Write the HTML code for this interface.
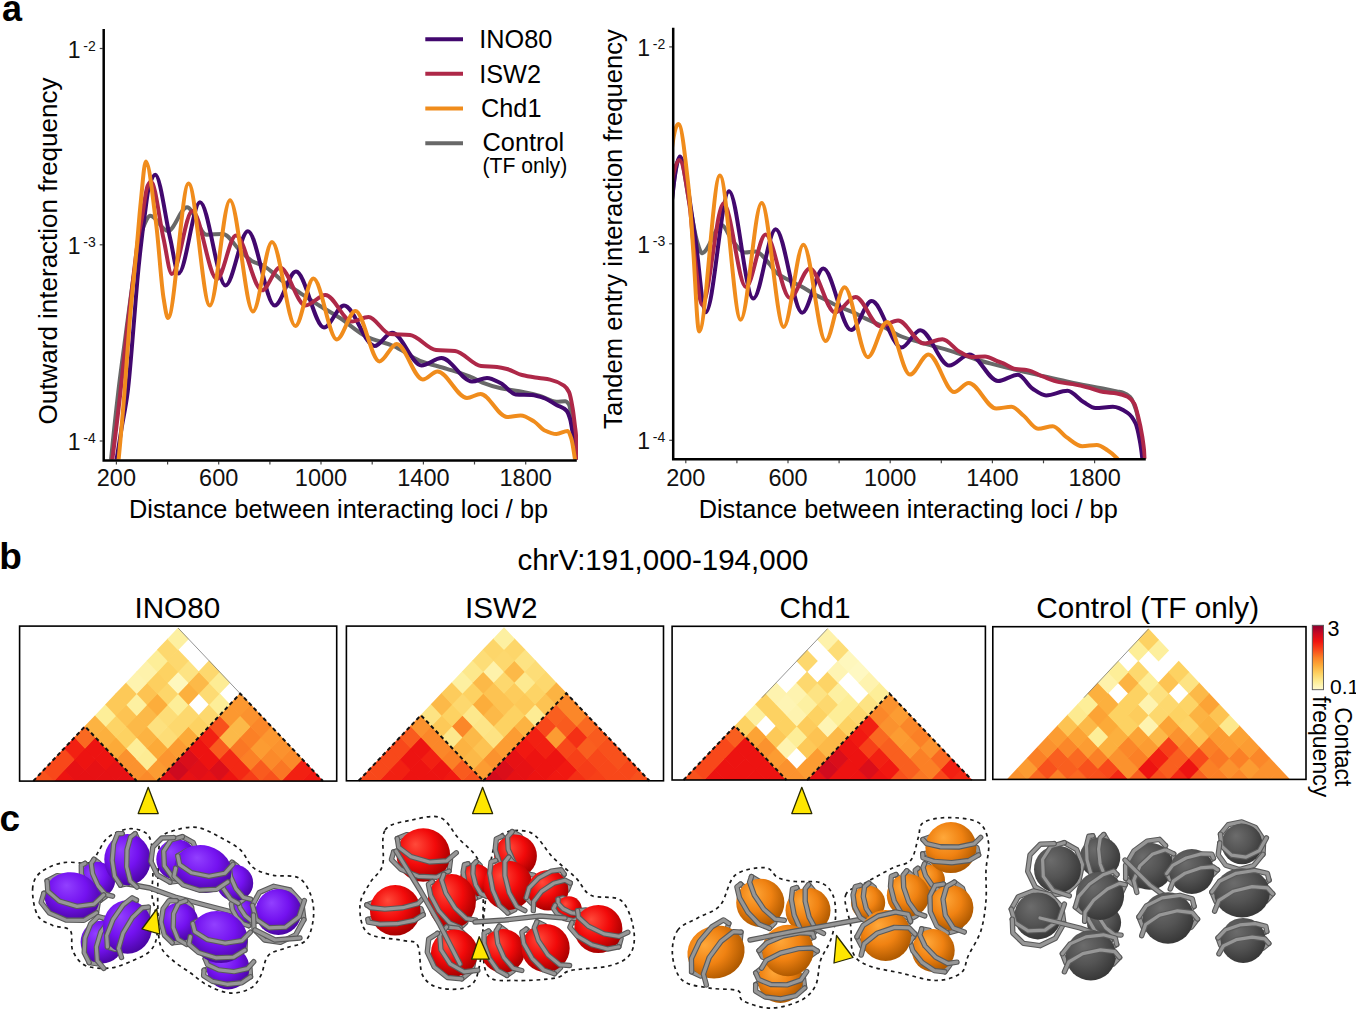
<!DOCTYPE html>
<html><head><meta charset="utf-8"><title>Figure</title><style>
html,body{margin:0;padding:0;background:#ffffff;overflow:hidden;}
svg{display:block;}
text{font-family:"Liberation Sans", sans-serif;}
</style></head><body>
<svg width="1356" height="1011" viewBox="0 0 1356 1011">
<rect x="0" y="0" width="1356" height="1011" fill="#ffffff"/>
<defs>
<clipPath id="clipL"><rect x="104" y="0" width="474" height="459.5"/></clipPath>
<clipPath id="clipR"><rect x="673.5" y="0" width="473" height="458.8"/></clipPath>
<linearGradient id="cbar" x1="0" y1="0" x2="0" y2="1">
<stop offset="0.000" stop-color="#8c0030"/>
<stop offset="0.120" stop-color="#c80822"/>
<stop offset="0.250" stop-color="#f01410"/>
<stop offset="0.380" stop-color="#f8481a"/>
<stop offset="0.500" stop-color="#fb8026"/>
<stop offset="0.620" stop-color="#fcaa38"/>
<stop offset="0.750" stop-color="#fdd262"/>
<stop offset="0.880" stop-color="#fdee98"/>
<stop offset="1.000" stop-color="#fffbd0"/>
</linearGradient>
</defs>
<text x="1.9" y="20.5" font-size="36" font-weight="bold" fill="#000">a</text>
<text x="-0.8" y="569.3" font-size="37" font-weight="bold" fill="#000">b</text>
<text x="-0.5" y="831.0" font-size="37" font-weight="bold" fill="#000">c</text>
<g clip-path="url(#clipL)" fill="none" stroke-width="4" stroke-linejoin="round" stroke-linecap="round">
<path d="M110.20,468.00 C112.90,440.05 115.60,414.53 118.30,391.70 C120.53,372.81 122.77,356.98 125.00,340.00 C127.00,324.79 129.00,309.12 131.00,295.00 C133.00,280.88 135.00,265.75 137.00,255.00 C139.00,244.25 141.00,232.95 143.00,228.00 C145.43,221.98 147.87,215.80 150.30,215.80 C156.20,215.80 162.10,231.00 168.00,231.00 C174.33,231.00 180.67,207.20 187.00,207.20 C193.53,207.20 200.07,234.80 206.60,234.80 C212.03,234.80 217.47,233.90 222.90,233.90 C228.70,233.90 234.50,245.68 240.30,250.90 C244.63,254.80 248.97,259.64 253.30,261.80 C256.20,263.25 259.10,263.62 262.00,265.00 C265.67,266.75 269.33,269.82 273.00,272.70 C275.87,274.95 278.73,278.06 281.60,280.30 C287.73,285.09 293.87,288.69 300.00,292.80 C306.67,297.26 313.33,301.81 320.00,306.00 C326.67,310.19 333.33,313.71 340.00,318.00 C348.90,323.73 357.80,332.56 366.70,336.70 C375.60,340.84 384.50,342.19 393.40,346.00 C402.27,349.80 411.13,357.35 420.00,360.80 C428.93,364.27 437.87,365.94 446.80,368.80 C455.70,371.65 464.60,374.19 473.50,378.00 C476.47,379.27 479.43,381.43 482.40,382.60 C488.57,385.03 494.73,386.87 500.90,388.20 C507.07,389.53 513.23,390.11 519.40,391.30 C526.27,392.62 533.13,394.08 540.00,396.00 C545.50,397.53 551.00,401.80 556.50,401.80 C559.40,401.80 562.30,401.20 565.20,401.20 C566.43,401.20 567.67,402.50 568.90,404.30 C570.27,406.29 571.63,418.56 573.00,430.00 C574.00,438.37 575.00,451.58 576.00,466.00" stroke="#686868"/>
<path d="M115.20,468.00 C117.23,455.09 119.27,442.41 121.30,430.00 C123.43,416.98 125.57,408.34 127.70,391.70 C129.83,375.06 131.97,345.09 134.10,320.00 C135.17,307.45 136.23,292.46 137.30,280.80 C138.37,269.14 139.43,258.74 140.50,249.20 C141.80,237.57 143.10,227.01 144.40,217.50 C146.00,205.80 147.60,190.49 149.20,185.80 C151.20,179.94 153.20,174.80 155.20,174.80 C160.23,174.80 165.27,217.90 170.30,239.00 C173.07,250.60 175.83,273.40 178.60,273.40 C185.73,273.40 192.87,202.30 200.00,202.30 C208.53,202.30 217.07,285.40 225.60,285.40 C233.03,285.40 240.47,231.20 247.90,231.20 C256.83,231.20 265.77,305.50 274.70,305.50 C281.80,305.50 288.90,271.50 296.00,271.50 C305.33,271.50 314.67,327.50 324.00,327.50 C330.67,327.50 337.33,305.50 344.00,305.50 C354.23,305.50 364.47,346.00 374.70,346.00 C380.47,346.00 386.23,332.70 392.00,332.70 C401.83,332.70 411.67,365.40 421.50,365.40 C428.17,365.40 434.83,358.00 441.50,358.00 C451.67,358.00 461.83,381.50 472.00,381.50 C477.00,381.50 482.00,378.00 487.00,378.00 C491.63,378.00 496.27,380.97 500.90,383.30 C505.83,385.79 510.77,394.05 515.70,394.40 C521.07,394.79 526.43,394.64 531.80,395.00 C535.93,395.28 540.07,396.68 544.20,398.10 C548.30,399.51 552.40,402.61 556.50,404.90 C559.80,406.75 563.10,407.19 566.40,410.50 C567.63,411.74 568.87,415.00 570.10,419.10 C571.13,422.53 572.17,429.91 573.20,436.40 C574.23,442.89 575.27,449.55 576.30,458.70 C576.53,460.77 576.77,463.43 577.00,466.00" stroke="#42086e"/>
<path d="M111.20,468.00 C114.30,444.92 117.40,419.10 120.50,391.70 C122.67,372.55 124.83,349.21 127.00,330.00 C129.00,312.27 131.00,296.32 133.00,280.00 C134.67,266.40 136.33,250.94 138.00,240.00 C139.33,231.25 140.67,225.02 142.00,217.50 C143.87,206.97 145.73,189.47 147.60,185.80 C148.73,183.57 149.87,181.50 151.00,181.50 C155.20,181.50 159.40,220.52 163.60,239.00 C166.33,251.03 169.07,274.00 171.80,274.00 C178.67,274.00 185.53,211.00 192.40,211.00 C200.57,211.00 208.73,279.00 216.90,279.00 C223.23,279.00 229.57,235.50 235.90,235.50 C244.60,235.50 253.30,290.30 262.00,290.30 C268.00,290.30 274.00,267.50 280.00,267.50 C288.47,267.50 296.93,305.50 305.40,305.50 C312.07,305.50 318.73,295.00 325.40,295.00 C334.27,295.00 343.13,321.50 352.00,321.50 C357.50,321.50 363.00,317.00 368.50,317.00 C375.67,317.00 382.83,333.33 390.00,334.00 C396.67,334.62 403.33,334.41 410.00,335.00 C418.67,335.77 427.33,349.20 436.00,350.00 C442.33,350.59 448.67,350.41 455.00,351.00 C463.67,351.80 472.33,365.08 481.00,366.00 C486.33,366.57 491.67,366.47 497.00,367.00 C500.33,367.33 503.67,368.13 507.00,369.00 C512.00,370.30 517.00,373.77 522.00,375.00 C527.67,376.40 533.33,377.10 539.00,378.00 C542.67,378.58 546.33,378.82 550.00,379.60 C554.67,380.60 559.33,382.43 564.00,385.70 C565.67,386.87 567.33,388.63 569.00,392.00 C570.20,394.43 571.40,401.11 572.60,408.00 C573.40,412.59 574.20,419.58 575.00,426.50 C575.43,430.25 575.87,431.90 576.30,439.00 C576.53,442.82 576.77,454.64 577.00,466.00" stroke="#ae2848"/>
<path d="M117.80,468.00 C120.03,445.46 122.27,419.71 124.50,392.00 C126.27,370.08 128.03,340.97 129.80,320.00 C132.07,293.09 134.33,273.64 136.60,249.00 C138.00,233.78 139.40,214.88 140.80,201.70 C142.47,186.01 144.13,161.60 145.80,161.60 C149.27,161.60 152.73,197.75 156.20,224.20 C158.67,243.02 161.13,283.66 163.60,298.40 C165.07,307.16 166.53,318.00 168.00,318.00 C174.87,318.00 181.73,183.50 188.60,183.50 C195.67,183.50 202.73,305.50 209.80,305.50 C216.53,305.50 223.27,200.20 230.00,200.20 C237.67,200.20 245.33,311.50 253.00,311.50 C259.33,311.50 265.67,242.00 272.00,242.00 C279.80,242.00 287.60,326.00 295.40,326.00 C301.40,326.00 307.40,278.50 313.40,278.50 C321.20,278.50 329.00,339.50 336.80,339.50 C343.00,339.50 349.20,311.00 355.40,311.00 C363.40,311.00 371.40,361.40 379.40,361.40 C385.17,361.40 390.93,344.00 396.70,344.00 C405.40,344.00 414.10,379.50 422.80,379.50 C427.70,379.50 432.60,371.50 437.50,371.50 C447.33,371.50 457.17,398.00 467.00,398.00 C471.50,398.00 476.00,394.00 480.50,394.00 C489.33,394.00 498.17,417.00 507.00,417.00 C511.57,417.00 516.13,415.40 520.70,415.40 C525.23,415.40 529.77,418.84 534.30,421.60 C537.60,423.61 540.90,428.67 544.20,430.20 C548.30,432.10 552.40,434.00 556.50,434.00 C560.23,434.00 563.97,430.90 567.70,430.90 C568.93,430.90 570.17,435.01 571.40,438.90 C572.43,442.16 573.47,449.92 574.50,456.20 C575.00,459.24 575.50,462.58 576.00,466.00" stroke="#f08c1c"/>
</g>
<g stroke="#444" stroke-width="1.2">
<line x1="116.4" y1="461.5" x2="116.4" y2="464.5"/>
<line x1="167.6" y1="461.5" x2="167.6" y2="464.5"/>
<line x1="218.7" y1="461.5" x2="218.7" y2="464.5"/>
<line x1="269.9" y1="461.5" x2="269.9" y2="464.5"/>
<line x1="321.0" y1="461.5" x2="321.0" y2="464.5"/>
<line x1="372.2" y1="461.5" x2="372.2" y2="464.5"/>
<line x1="423.4" y1="461.5" x2="423.4" y2="464.5"/>
<line x1="474.5" y1="461.5" x2="474.5" y2="464.5"/>
<line x1="525.7" y1="461.5" x2="525.7" y2="464.5"/>
<line x1="99.7" y1="48.5" x2="102.7" y2="48.5"/>
<line x1="99.7" y1="244.8" x2="102.7" y2="244.8"/>
<line x1="99.7" y1="441.0" x2="102.7" y2="441.0"/>
</g>
<path d="M103.7,29.0 L103.7,460.5 L576.8,460.5" fill="none" stroke="#000" stroke-width="2.5"/>
<text x="116.4" y="486.3" font-size="23.5" text-anchor="middle" fill="#111">200</text>
<text x="218.7" y="486.3" font-size="23.5" text-anchor="middle" fill="#111">600</text>
<text x="321.0" y="486.3" font-size="23.5" text-anchor="middle" fill="#111">1000</text>
<text x="423.4" y="486.3" font-size="23.5" text-anchor="middle" fill="#111">1400</text>
<text x="525.7" y="486.3" font-size="23.5" text-anchor="middle" fill="#111">1800</text>
<text x="80.5" y="57.5" font-size="23" text-anchor="end" fill="#111">1</text>
<text x="95.8" y="50.5" font-size="14" text-anchor="end" fill="#111">-2</text>
<text x="80.5" y="253.8" font-size="23" text-anchor="end" fill="#111">1</text>
<text x="95.8" y="246.8" font-size="14" text-anchor="end" fill="#111">-3</text>
<text x="80.5" y="450.0" font-size="23" text-anchor="end" fill="#111">1</text>
<text x="95.8" y="443.0" font-size="14" text-anchor="end" fill="#111">-4</text>
<text x="129.0" y="517.5" font-size="25.3" fill="#000">Distance between interacting loci / bp</text>
<text transform="translate(57.2,424.4) rotate(-90)" font-size="26.00" fill="#000">Outward interaction frequency</text>
<g clip-path="url(#clipR)" fill="none" stroke-width="4" stroke-linejoin="round" stroke-linecap="round">
<path d="M671.00,210.00 C673.93,178.25 676.87,158.00 679.80,158.00 C683.20,158.00 686.60,189.48 690.00,206.00 C692.33,217.33 694.67,233.49 697.00,241.00 C698.67,246.36 700.33,253.20 702.00,253.20 C708.57,253.20 715.13,225.00 721.70,225.00 C725.13,225.00 728.57,235.99 732.00,240.00 C736.33,245.06 740.67,252.50 745.00,252.50 C748.50,252.50 752.00,251.50 755.50,251.50 C760.33,251.50 765.17,259.21 770.00,264.60 C771.90,266.72 773.80,270.64 775.70,272.30 C780.00,276.05 784.30,277.64 788.60,280.00 C792.87,282.34 797.13,284.16 801.40,286.50 C805.70,288.86 810.00,291.86 814.30,294.20 C818.57,296.52 822.83,298.47 827.10,300.60 C831.40,302.74 835.70,305.09 840.00,307.00 C844.30,308.91 848.60,310.28 852.90,312.20 C857.17,314.10 861.43,316.58 865.70,318.60 C870.47,320.85 875.23,322.69 880.00,325.00 C887.17,328.47 894.33,333.71 901.50,336.50 C910.73,340.09 919.97,342.06 929.20,344.80 C938.47,347.55 947.73,350.07 957.00,353.00 C963.90,355.18 970.80,357.92 977.70,360.00 C981.80,361.24 985.90,362.31 990.00,363.40 C998.90,365.76 1007.80,367.99 1016.70,370.10 C1025.60,372.21 1034.50,374.10 1043.40,376.10 C1052.30,378.10 1061.20,380.22 1070.10,382.10 C1079.00,383.98 1087.90,385.63 1096.80,387.40 C1103.50,388.73 1110.20,390.03 1116.90,391.40 C1119.13,391.86 1121.37,392.09 1123.60,392.80 C1125.73,393.48 1127.87,394.84 1130.00,397.00 C1132.00,399.03 1134.00,403.79 1136.00,410.00 C1137.33,414.14 1138.67,421.19 1140.00,430.00 C1141.00,436.61 1142.00,449.49 1143.00,458.00 C1143.33,460.84 1143.67,463.44 1144.00,466.00" stroke="#686868"/>
<path d="M671.00,210.00 C673.97,179.67 676.93,156.50 679.90,156.50 C684.83,156.50 689.77,203.67 694.70,233.50 C698.40,255.87 702.10,312.20 705.80,312.20 C713.53,312.20 721.27,191.20 729.00,191.20 C737.10,191.20 745.20,298.60 753.30,298.60 C760.77,298.60 768.23,229.30 775.70,229.30 C784.53,229.30 793.37,312.70 802.20,312.70 C809.23,312.70 816.27,268.50 823.30,268.50 C832.60,268.50 841.90,330.10 851.20,330.10 C858.03,330.10 864.87,301.10 871.70,301.10 C881.63,301.10 891.57,347.60 901.50,347.60 C907.73,347.60 913.97,330.20 920.20,330.20 C929.90,330.20 939.60,365.60 949.30,365.60 C956.00,365.60 962.70,354.50 969.40,354.50 C978.93,354.50 988.47,381.00 998.00,381.00 C1004.67,381.00 1011.33,374.70 1018.00,374.70 C1022.90,374.70 1027.80,385.63 1032.70,388.80 C1037.17,391.69 1041.63,395.40 1046.10,395.40 C1053.23,395.40 1060.37,390.80 1067.50,390.80 C1072.83,390.80 1078.17,399.00 1083.50,402.10 C1087.50,404.42 1091.50,408.10 1095.50,408.10 C1101.30,408.10 1107.10,406.80 1112.90,406.80 C1117.80,406.80 1122.70,409.57 1127.60,412.80 C1130.27,414.56 1132.93,417.84 1135.60,423.50 C1136.93,426.33 1138.27,432.62 1139.60,439.50 C1140.50,444.14 1141.40,450.14 1142.30,458.20 C1142.53,460.29 1142.77,463.20 1143.00,466.00" stroke="#42086e"/>
<path d="M671.00,188.00 C673.83,168.52 676.67,160.00 679.50,160.00 C682.83,160.00 686.17,183.40 689.50,205.00 C691.17,215.80 692.83,241.49 694.50,255.00 C697.00,275.27 699.50,305.00 702.00,305.00 C709.20,305.00 716.40,203.60 723.60,203.60 C731.03,203.60 738.47,287.00 745.90,287.00 C752.47,287.00 759.03,234.50 765.60,234.50 C773.73,234.50 781.87,298.00 790.00,298.00 C796.60,298.00 803.20,268.50 809.80,268.50 C818.20,268.50 826.60,312.50 835.00,312.50 C841.83,312.50 848.67,297.00 855.50,297.00 C863.67,297.00 871.83,326.20 880.00,326.20 C886.03,326.20 892.07,320.50 898.10,320.50 C906.63,320.50 915.17,343.50 923.70,343.50 C929.93,343.50 936.17,339.20 942.40,339.20 C948.27,339.20 954.13,348.94 960.00,352.00 C964.00,354.08 968.00,357.00 972.00,357.00 C976.33,357.00 980.67,356.50 985.00,356.50 C989.33,356.50 993.67,359.92 998.00,361.50 C999.80,362.16 1001.60,362.67 1003.40,363.40 C1006.93,364.83 1010.47,368.07 1014.00,368.70 C1018.47,369.49 1022.93,369.37 1027.40,370.10 C1032.73,370.97 1038.07,374.72 1043.40,376.70 C1048.73,378.68 1054.07,381.01 1059.40,382.10 C1063.87,383.01 1068.33,383.30 1072.80,384.10 C1078.60,385.14 1084.40,386.58 1090.20,388.10 C1094.63,389.26 1099.07,391.45 1103.50,392.10 C1107.97,392.76 1112.43,392.72 1116.90,393.40 C1120.47,393.94 1124.03,395.00 1127.60,396.80 C1129.80,397.91 1132.00,399.92 1134.20,403.50 C1135.53,405.67 1136.87,411.53 1138.20,416.80 C1139.57,422.20 1140.93,428.27 1142.30,436.80 C1143.17,442.21 1144.03,449.04 1144.90,458.20 C1145.10,460.31 1145.30,463.22 1145.50,466.00" stroke="#ae2848"/>
<path d="M671.00,156.00 C673.47,134.37 675.93,124.00 678.40,124.00 C681.83,124.00 685.27,157.95 688.70,189.00 C690.20,202.56 691.70,229.48 693.20,250.00 C695.17,276.90 697.13,331.50 699.10,331.50 C706.03,331.50 712.97,175.40 719.90,175.40 C726.83,175.40 733.77,319.70 740.70,319.70 C747.67,319.70 754.63,203.00 761.60,203.00 C768.97,203.00 776.33,326.90 783.70,326.90 C790.27,326.90 796.83,244.70 803.40,244.70 C810.77,244.70 818.13,341.00 825.50,341.00 C831.87,341.00 838.23,287.20 844.60,287.20 C852.33,287.20 860.07,357.20 867.80,357.20 C874.20,357.20 880.60,322.00 887.00,322.00 C894.63,322.00 902.27,374.60 909.90,374.60 C916.10,374.60 922.30,354.50 928.50,354.50 C937.07,354.50 945.63,392.00 954.20,392.00 C959.03,392.00 963.87,383.00 968.70,383.00 C977.87,383.00 987.03,408.50 996.20,408.50 C1001.27,408.50 1006.33,406.80 1011.40,406.80 C1015.40,406.80 1019.40,412.29 1023.40,415.50 C1028.30,419.43 1033.20,428.80 1038.10,428.80 C1043.00,428.80 1047.90,426.20 1052.80,426.20 C1057.23,426.20 1061.67,433.80 1066.10,436.80 C1071.47,440.43 1076.83,446.20 1082.20,446.20 C1087.07,446.20 1091.93,444.90 1096.80,444.90 C1100.37,444.90 1103.93,447.95 1107.50,450.20 C1110.63,452.17 1113.77,454.67 1116.90,458.20 C1118.60,460.11 1120.30,462.99 1122.00,466.00" stroke="#f08c1c"/>
</g>
<g stroke="#444" stroke-width="1.2">
<line x1="685.8" y1="460.3" x2="685.8" y2="463.3"/>
<line x1="736.9" y1="460.3" x2="736.9" y2="463.3"/>
<line x1="788.0" y1="460.3" x2="788.0" y2="463.3"/>
<line x1="839.1" y1="460.3" x2="839.1" y2="463.3"/>
<line x1="890.2" y1="460.3" x2="890.2" y2="463.3"/>
<line x1="941.3" y1="460.3" x2="941.3" y2="463.3"/>
<line x1="992.4" y1="460.3" x2="992.4" y2="463.3"/>
<line x1="1043.5" y1="460.3" x2="1043.5" y2="463.3"/>
<line x1="1094.6" y1="460.3" x2="1094.6" y2="463.3"/>
<line x1="669.2" y1="46.9" x2="672.2" y2="46.9"/>
<line x1="669.2" y1="243.8" x2="672.2" y2="243.8"/>
<line x1="669.2" y1="440.3" x2="672.2" y2="440.3"/>
</g>
<path d="M673.2,27.7 L673.2,459.3 L1145.8,459.3" fill="none" stroke="#000" stroke-width="2.5"/>
<text x="685.8" y="485.5" font-size="23.5" text-anchor="middle" fill="#111">200</text>
<text x="788.0" y="485.5" font-size="23.5" text-anchor="middle" fill="#111">600</text>
<text x="890.2" y="485.5" font-size="23.5" text-anchor="middle" fill="#111">1000</text>
<text x="992.4" y="485.5" font-size="23.5" text-anchor="middle" fill="#111">1400</text>
<text x="1094.6" y="485.5" font-size="23.5" text-anchor="middle" fill="#111">1800</text>
<text x="650.0" y="55.9" font-size="23" text-anchor="end" fill="#111">1</text>
<text x="665.3" y="48.9" font-size="14" text-anchor="end" fill="#111">-2</text>
<text x="650.0" y="252.8" font-size="23" text-anchor="end" fill="#111">1</text>
<text x="665.3" y="245.8" font-size="14" text-anchor="end" fill="#111">-3</text>
<text x="650.0" y="449.3" font-size="23" text-anchor="end" fill="#111">1</text>
<text x="665.3" y="442.3" font-size="14" text-anchor="end" fill="#111">-4</text>
<text x="698.7" y="517.5" font-size="25.3" fill="#000">Distance between interacting loci / bp</text>
<text transform="translate(621.6,428.9) rotate(-90)" font-size="25.60" fill="#000">Tandem entry interaction frequency</text>
<line x1="425.3" y1="39.3" x2="463" y2="39.3" stroke="#42086e" stroke-width="4"/>
<text x="479.2" y="48.3" font-size="25.3" fill="#000">INO80</text>
<line x1="425.3" y1="73.8" x2="463" y2="73.8" stroke="#ae2848" stroke-width="4"/>
<text x="479.2" y="83.3" font-size="25.3" fill="#000">ISW2</text>
<line x1="425.3" y1="108.5" x2="463" y2="108.5" stroke="#f08c1c" stroke-width="4"/>
<text x="481.0" y="117.3" font-size="25.3" fill="#000">Chd1</text>
<line x1="425.3" y1="143.2" x2="463" y2="143.2" stroke="#686868" stroke-width="4"/>
<text x="482.6" y="151.4" font-size="25.3" fill="#000">Control</text>
<text x="482.5" y="173.3" font-size="21.2" fill="#000">(TF only)</text>
<text x="517.6" y="570.2" font-size="29.5" fill="#000">chrV:191,000-194,000</text>
<text x="177.3" y="618" font-size="29.7" text-anchor="middle" fill="#000">INO80</text>
<clipPath id="hc0"><rect x="31.3" y="626.0" width="293.6" height="155.0"/></clipPath>
<g clip-path="url(#hc0)">
<path d="M43.64,769.62 L54.44,781.00 L43.64,792.38 L32.85,781.00 Z" fill="#f8511c"/>
<path d="M64.33,769.62 L75.12,781.00 L64.33,792.38 L53.54,781.00 Z" fill="#ed1311"/>
<path d="M85.01,769.62 L95.81,781.00 L85.01,792.38 L74.22,781.00 Z" fill="#e71114"/>
<path d="M105.70,769.62 L116.49,781.00 L105.70,792.38 L94.91,781.00 Z" fill="#e71114"/>
<path d="M126.39,769.62 L137.18,781.00 L126.39,792.38 L115.59,781.00 Z" fill="#e71114"/>
<path d="M147.07,769.62 L157.86,781.00 L147.07,792.38 L136.28,781.00 Z" fill="#fb8a2a"/>
<path d="M167.76,769.62 L178.55,781.00 L167.76,792.38 L156.96,781.00 Z" fill="#e10f17"/>
<path d="M188.44,769.62 L199.24,781.00 L188.44,792.38 L177.65,781.00 Z" fill="#e71114"/>
<path d="M209.13,769.62 L219.92,781.00 L209.13,792.38 L198.34,781.00 Z" fill="#e71114"/>
<path d="M229.81,769.62 L240.61,781.00 L229.81,792.38 L219.02,781.00 Z" fill="#ed1311"/>
<path d="M250.50,769.62 L261.29,781.00 L250.50,792.38 L239.71,781.00 Z" fill="#f63c18"/>
<path d="M271.19,769.62 L281.98,781.00 L271.19,792.38 L260.39,781.00 Z" fill="#f8511c"/>
<path d="M291.87,769.62 L302.66,781.00 L291.87,792.38 L281.08,781.00 Z" fill="#f22012"/>
<path d="M312.56,769.62 L323.35,781.00 L312.56,792.38 L301.76,781.00 Z" fill="#f11811"/>
<path d="M53.99,758.69 L64.78,770.07 L53.99,781.45 L43.19,770.07 Z" fill="#f8481a"/>
<path d="M74.67,758.69 L85.46,770.07 L74.67,781.45 L63.88,770.07 Z" fill="#e71114"/>
<path d="M95.36,758.69 L106.15,770.07 L95.36,781.45 L84.56,770.07 Z" fill="#e71114"/>
<path d="M116.04,758.69 L126.84,770.07 L116.04,781.45 L105.25,770.07 Z" fill="#e71114"/>
<path d="M136.73,758.69 L147.52,770.07 L136.73,781.45 L125.94,770.07 Z" fill="#fb922e"/>
<path d="M157.41,758.69 L168.21,770.07 L157.41,781.45 L146.62,770.07 Z" fill="#fc9c32"/>
<path d="M178.10,758.69 L188.89,770.07 L178.10,781.45 L167.31,770.07 Z" fill="#ce0a1f"/>
<path d="M198.79,758.69 L209.58,770.07 L198.79,781.45 L187.99,770.07 Z" fill="#e10f17"/>
<path d="M219.47,758.69 L230.26,770.07 L219.47,781.45 L208.68,770.07 Z" fill="#da0e1a"/>
<path d="M240.16,758.69 L250.95,770.07 L240.16,781.45 L229.36,770.07 Z" fill="#f32814"/>
<path d="M260.84,758.69 L271.64,770.07 L260.84,781.45 L250.05,770.07 Z" fill="#f95b1e"/>
<path d="M281.53,758.69 L292.32,770.07 L281.53,781.45 L270.74,770.07 Z" fill="#fa7724"/>
<path d="M302.21,758.69 L313.01,770.07 L302.21,781.45 L291.42,770.07 Z" fill="#f22012"/>
<path d="M64.33,747.76 L75.12,759.14 L64.33,770.52 L53.54,759.14 Z" fill="#f8481a"/>
<path d="M85.01,747.76 L95.81,759.14 L85.01,770.52 L74.22,759.14 Z" fill="#ed1311"/>
<path d="M105.70,747.76 L116.49,759.14 L105.70,770.52 L94.91,759.14 Z" fill="#ed1311"/>
<path d="M126.39,747.76 L137.18,759.14 L126.39,770.52 L115.59,759.14 Z" fill="#fb922e"/>
<path d="M147.07,747.76 L157.86,759.14 L147.07,770.52 L136.28,759.14 Z" fill="#fdec94"/>
<path d="M167.76,747.76 L178.55,759.14 L167.76,770.52 L156.96,759.14 Z" fill="#fc952f"/>
<path d="M188.44,747.76 L199.24,759.14 L188.44,770.52 L177.65,759.14 Z" fill="#da0e1a"/>
<path d="M209.13,747.76 L219.92,759.14 L209.13,770.52 L198.34,759.14 Z" fill="#ed1311"/>
<path d="M229.81,747.76 L240.61,759.14 L229.81,770.52 L219.02,759.14 Z" fill="#f32814"/>
<path d="M250.50,747.76 L261.29,759.14 L250.50,770.52 L239.71,759.14 Z" fill="#fb8026"/>
<path d="M271.19,747.76 L281.98,759.14 L271.19,770.52 L260.39,759.14 Z" fill="#fb8a2a"/>
<path d="M291.87,747.76 L302.66,759.14 L291.87,770.52 L281.08,759.14 Z" fill="#fb8a2a"/>
<path d="M74.67,736.84 L85.46,748.21 L74.67,759.59 L63.88,748.21 Z" fill="#f22012"/>
<path d="M95.36,736.84 L106.15,748.21 L95.36,759.59 L84.56,748.21 Z" fill="#ed1311"/>
<path d="M116.04,736.84 L126.84,748.21 L116.04,759.59 L105.25,748.21 Z" fill="#fcaa38"/>
<path d="M136.73,736.84 L147.52,748.21 L136.73,759.59 L125.94,748.21 Z" fill="#fdee98"/>
<path d="M157.41,736.84 L168.21,748.21 L157.41,759.59 L146.62,748.21 Z" fill="#fcaa38"/>
<path d="M178.10,736.84 L188.89,748.21 L178.10,759.59 L167.31,748.21 Z" fill="#fc9c32"/>
<path d="M198.79,736.84 L209.58,748.21 L198.79,759.59 L187.99,748.21 Z" fill="#ed1311"/>
<path d="M219.47,736.84 L230.26,748.21 L219.47,759.59 L208.68,748.21 Z" fill="#f95b1e"/>
<path d="M240.16,736.84 L250.95,748.21 L240.16,759.59 L229.36,748.21 Z" fill="#fa7724"/>
<path d="M260.84,736.84 L271.64,748.21 L260.84,759.59 L250.05,748.21 Z" fill="#fc9c32"/>
<path d="M281.53,736.84 L292.32,748.21 L281.53,759.59 L270.74,748.21 Z" fill="#fb922e"/>
<path d="M85.01,725.91 L95.81,737.29 L85.01,748.66 L74.22,737.29 Z" fill="#fa6921"/>
<path d="M105.70,725.91 L116.49,737.29 L105.70,748.66 L94.91,737.29 Z" fill="#fcb03e"/>
<path d="M126.39,725.91 L137.18,737.29 L126.39,748.66 L115.59,737.29 Z" fill="#fdd262"/>
<path d="M147.07,725.91 L157.86,737.29 L147.07,748.66 L136.28,737.29 Z" fill="#fcb342"/>
<path d="M167.76,725.91 L178.55,737.29 L167.76,748.66 L156.96,737.29 Z" fill="#fddd77"/>
<path d="M188.44,725.91 L199.24,737.29 L188.44,748.66 L177.65,737.29 Z" fill="#fcaa38"/>
<path d="M209.13,725.91 L219.92,737.29 L209.13,748.66 L198.34,737.29 Z" fill="#f22012"/>
<path d="M229.81,725.91 L240.61,737.29 L229.81,748.66 L219.02,737.29 Z" fill="#fcb948"/>
<path d="M250.50,725.91 L261.29,737.29 L250.50,748.66 L239.71,737.29 Z" fill="#fb8026"/>
<path d="M271.19,725.91 L281.98,737.29 L271.19,748.66 L260.39,737.29 Z" fill="#fc9830"/>
<path d="M95.36,714.98 L106.15,726.36 L95.36,737.74 L84.56,726.36 Z" fill="#fcb342"/>
<path d="M116.04,714.98 L126.84,726.36 L116.04,737.74 L105.25,726.36 Z" fill="#fdd466"/>
<path d="M136.73,714.98 L147.52,726.36 L136.73,737.74 L125.94,726.36 Z" fill="#fcb948"/>
<path d="M157.41,714.98 L168.21,726.36 L157.41,737.74 L146.62,726.36 Z" fill="#fde17f"/>
<path d="M178.10,714.98 L188.89,726.36 L178.10,737.74 L167.31,726.36 Z" fill="#fdd86e"/>
<path d="M198.79,714.98 L209.58,726.36 L198.79,737.74 L187.99,726.36 Z" fill="#fdd262"/>
<path d="M219.47,714.98 L230.26,726.36 L219.47,737.74 L208.68,726.36 Z" fill="#f8511c"/>
<path d="M240.16,714.98 L250.95,726.36 L240.16,737.74 L229.36,726.36 Z" fill="#fcb948"/>
<path d="M260.84,714.98 L271.64,726.36 L260.84,737.74 L250.05,726.36 Z" fill="#fb8729"/>
<path d="M105.70,704.05 L116.49,715.43 L105.70,726.81 L94.91,715.43 Z" fill="#fdee98"/>
<path d="M126.39,704.05 L137.18,715.43 L126.39,726.81 L115.59,715.43 Z" fill="#fdc352"/>
<path d="M147.07,704.05 L157.86,715.43 L147.07,726.81 L136.28,715.43 Z" fill="#fcb948"/>
<path d="M167.76,704.05 L178.55,715.43 L167.76,726.81 L156.96,715.43 Z" fill="#fddd77"/>
<path d="M188.44,704.05 L199.24,715.43 L188.44,726.81 L177.65,715.43 Z" fill="#fdd86e"/>
<path d="M209.13,704.05 L219.92,715.43 L209.13,726.81 L198.34,715.43 Z" fill="#fdd86e"/>
<path d="M229.81,704.05 L240.61,715.43 L229.81,726.81 L219.02,715.43 Z" fill="#fc9830"/>
<path d="M250.50,704.05 L261.29,715.43 L250.50,726.81 L239.71,715.43 Z" fill="#fb922e"/>
<path d="M116.04,693.12 L126.84,704.50 L116.04,715.88 L105.25,704.50 Z" fill="#fdc958"/>
<path d="M136.73,693.12 L147.52,704.50 L136.73,715.88 L125.94,704.50 Z" fill="#fdf0a1"/>
<path d="M157.41,693.12 L168.21,704.50 L157.41,715.88 L146.62,704.50 Z" fill="#fcad3b"/>
<path d="M178.10,693.12 L188.89,704.50 L178.10,715.88 L167.31,704.50 Z" fill="#fdee98"/>
<path d="M219.47,693.12 L230.26,704.50 L219.47,715.88 L208.68,704.50 Z" fill="#fdee98"/>
<path d="M240.16,693.12 L250.95,704.50 L240.16,715.88 L229.36,704.50 Z" fill="#fc9830"/>
<path d="M126.39,682.19 L137.18,693.57 L126.39,704.95 L115.59,693.57 Z" fill="#fdc958"/>
<path d="M147.07,682.19 L157.86,693.57 L147.07,704.95 L136.28,693.57 Z" fill="#fdc352"/>
<path d="M167.76,682.19 L178.55,693.57 L167.76,704.95 L156.96,693.57 Z" fill="#fdd66a"/>
<path d="M188.44,682.19 L199.24,693.57 L188.44,704.95 L177.65,693.57 Z" fill="#fcb03e"/>
<path d="M209.13,682.19 L219.92,693.57 L209.13,704.95 L198.34,693.57 Z" fill="#fddb73"/>
<path d="M136.73,671.26 L147.52,682.64 L136.73,694.02 L125.94,682.64 Z" fill="#fef3af"/>
<path d="M157.41,671.26 L168.21,682.64 L157.41,694.02 L146.62,682.64 Z" fill="#fdcf5f"/>
<path d="M178.10,671.26 L188.89,682.64 L178.10,694.02 L167.31,682.64 Z" fill="#fef7bd"/>
<path d="M198.79,671.26 L209.58,682.64 L198.79,694.02 L187.99,682.64 Z" fill="#fcb948"/>
<path d="M219.47,671.26 L230.26,682.64 L219.47,694.02 L208.68,682.64 Z" fill="#fdec94"/>
<path d="M147.07,660.34 L157.86,671.71 L147.07,683.09 L136.28,671.71 Z" fill="#fef2ab"/>
<path d="M167.76,660.34 L178.55,671.71 L167.76,683.09 L156.96,671.71 Z" fill="#fdd262"/>
<path d="M188.44,660.34 L199.24,671.71 L188.44,683.09 L177.65,671.71 Z" fill="#fde383"/>
<path d="M209.13,660.34 L219.92,671.71 L209.13,683.09 L198.34,671.71 Z" fill="#fdd86e"/>
<path d="M157.41,649.41 L168.21,660.79 L157.41,672.16 L146.62,660.79 Z" fill="#fdee98"/>
<path d="M178.10,649.41 L188.89,660.79 L178.10,672.16 L167.31,660.79 Z" fill="#fdd86e"/>
<path d="M167.76,638.48 L178.55,649.86 L167.76,661.24 L156.96,649.86 Z" fill="#fdd86e"/>
<path d="M178.10,627.55 L188.89,638.93 L178.10,650.31 L167.31,638.93 Z" fill="#fdf0a1"/>
</g>
<path d="M178.1,628.0 L244.3,697.9" fill="none" stroke="#7a7a7a" stroke-width="0.8"/>
<path d="M33.3,781.0 L85.0,726.4 L136.7,781.0" fill="none" stroke="#111" stroke-width="2" stroke-dasharray="4,3"/>
<path d="M157.4,781.0 L240.2,693.6 L322.9,781.0" fill="none" stroke="#111" stroke-width="2" stroke-dasharray="4,3"/>
<rect x="19.6" y="626.1" width="317.1" height="155.0" fill="none" stroke="#000" stroke-width="1.6"/>
<path d="M148.2,787.3 L158.2,813.6 L138.2,813.6 Z" fill="#ffe600" stroke="#2a2a00" stroke-width="1.3" stroke-linejoin="round"/>
<text x="501.2" y="618" font-size="29.7" text-anchor="middle" fill="#000">ISW2</text>
<clipPath id="hc1"><rect x="356.6" y="625.7" width="294.8" height="155.1"/></clipPath>
<g clip-path="url(#hc1)">
<path d="M368.99,769.41 L379.82,780.80 L368.99,792.19 L358.15,780.80 Z" fill="#f8481a"/>
<path d="M389.76,769.41 L400.59,780.80 L389.76,792.19 L378.92,780.80 Z" fill="#f22012"/>
<path d="M410.53,769.41 L421.36,780.80 L410.53,792.19 L399.69,780.80 Z" fill="#ed1311"/>
<path d="M431.30,769.41 L442.14,780.80 L431.30,792.19 L420.46,780.80 Z" fill="#ed1311"/>
<path d="M452.07,769.41 L462.91,780.80 L452.07,792.19 L441.24,780.80 Z" fill="#f11811"/>
<path d="M472.84,769.41 L483.68,780.80 L472.84,792.19 L462.01,780.80 Z" fill="#f8511c"/>
<path d="M493.61,769.41 L504.45,780.80 L493.61,792.19 L482.78,780.80 Z" fill="#d40c1c"/>
<path d="M514.39,769.41 L525.22,780.80 L514.39,792.19 L503.55,780.80 Z" fill="#e71114"/>
<path d="M535.16,769.41 L545.99,780.80 L535.16,792.19 L524.32,780.80 Z" fill="#ed1311"/>
<path d="M555.93,769.41 L566.76,780.80 L555.93,792.19 L545.09,780.80 Z" fill="#f11811"/>
<path d="M576.70,769.41 L587.54,780.80 L576.70,792.19 L565.86,780.80 Z" fill="#f43015"/>
<path d="M597.47,769.41 L608.31,780.80 L597.47,792.19 L586.64,780.80 Z" fill="#f74018"/>
<path d="M618.24,769.41 L629.08,780.80 L618.24,792.19 L607.41,780.80 Z" fill="#f8481a"/>
<path d="M639.01,769.41 L649.85,780.80 L639.01,792.19 L628.18,780.80 Z" fill="#f8511c"/>
<path d="M379.37,758.48 L390.21,769.86 L379.37,781.25 L368.54,769.86 Z" fill="#f8481a"/>
<path d="M400.14,758.48 L410.98,769.86 L400.14,781.25 L389.31,769.86 Z" fill="#f22012"/>
<path d="M420.91,758.48 L431.75,769.86 L420.91,781.25 L410.08,769.86 Z" fill="#ed1311"/>
<path d="M441.69,758.48 L452.52,769.86 L441.69,781.25 L430.85,769.86 Z" fill="#ed1311"/>
<path d="M462.46,758.48 L473.29,769.86 L462.46,781.25 L451.62,769.86 Z" fill="#f95b1e"/>
<path d="M483.23,758.48 L494.06,769.86 L483.23,781.25 L472.39,769.86 Z" fill="#fc9c32"/>
<path d="M504.00,758.48 L514.84,769.86 L504.00,781.25 L493.16,769.86 Z" fill="#da0e1a"/>
<path d="M524.77,758.48 L535.61,769.86 L524.77,781.25 L513.94,769.86 Z" fill="#e71114"/>
<path d="M545.54,758.48 L556.38,769.86 L545.54,781.25 L534.71,769.86 Z" fill="#ed1311"/>
<path d="M566.31,758.48 L577.15,769.86 L566.31,781.25 L555.48,769.86 Z" fill="#f11811"/>
<path d="M587.09,758.48 L597.92,769.86 L587.09,781.25 L576.25,769.86 Z" fill="#f63c18"/>
<path d="M607.86,758.48 L618.69,769.86 L607.86,781.25 L597.02,769.86 Z" fill="#f8481a"/>
<path d="M628.63,758.48 L639.46,769.86 L628.63,781.25 L617.79,769.86 Z" fill="#f8481a"/>
<path d="M389.76,747.54 L400.59,758.93 L389.76,770.31 L378.92,758.93 Z" fill="#f8481a"/>
<path d="M410.53,747.54 L421.36,758.93 L410.53,770.31 L399.69,758.93 Z" fill="#ed1311"/>
<path d="M431.30,747.54 L442.14,758.93 L431.30,770.31 L420.46,758.93 Z" fill="#f22012"/>
<path d="M452.07,747.54 L462.91,758.93 L452.07,770.31 L441.24,758.93 Z" fill="#fb8026"/>
<path d="M472.84,747.54 L483.68,758.93 L472.84,770.31 L462.01,758.93 Z" fill="#fcb948"/>
<path d="M493.61,747.54 L504.45,758.93 L493.61,770.31 L482.78,758.93 Z" fill="#fb922e"/>
<path d="M514.39,747.54 L525.22,758.93 L514.39,770.31 L503.55,758.93 Z" fill="#e71114"/>
<path d="M535.16,747.54 L545.99,758.93 L535.16,770.31 L524.32,758.93 Z" fill="#ed1311"/>
<path d="M555.93,747.54 L566.76,758.93 L555.93,770.31 L545.09,758.93 Z" fill="#ed1311"/>
<path d="M576.70,747.54 L587.54,758.93 L576.70,770.31 L565.86,758.93 Z" fill="#f74018"/>
<path d="M597.47,747.54 L608.31,758.93 L597.47,770.31 L586.64,758.93 Z" fill="#f8481a"/>
<path d="M618.24,747.54 L629.08,758.93 L618.24,770.31 L607.41,758.93 Z" fill="#f8511c"/>
<path d="M400.14,736.61 L410.98,747.99 L400.14,759.38 L389.31,747.99 Z" fill="#f8481a"/>
<path d="M420.91,736.61 L431.75,747.99 L420.91,759.38 L410.08,747.99 Z" fill="#ed1311"/>
<path d="M441.69,736.61 L452.52,747.99 L441.69,759.38 L430.85,747.99 Z" fill="#fb8729"/>
<path d="M462.46,736.61 L473.29,747.99 L462.46,759.38 L451.62,747.99 Z" fill="#fcb342"/>
<path d="M483.23,736.61 L494.06,747.99 L483.23,759.38 L472.39,747.99 Z" fill="#fdc352"/>
<path d="M504.00,736.61 L514.84,747.99 L504.00,759.38 L493.16,747.99 Z" fill="#fc9c32"/>
<path d="M524.77,736.61 L535.61,747.99 L524.77,759.38 L513.94,747.99 Z" fill="#f11811"/>
<path d="M545.54,736.61 L556.38,747.99 L545.54,759.38 L534.71,747.99 Z" fill="#f22012"/>
<path d="M566.31,736.61 L577.15,747.99 L566.31,759.38 L555.48,747.99 Z" fill="#f8481a"/>
<path d="M587.09,736.61 L597.92,747.99 L587.09,759.38 L576.25,747.99 Z" fill="#f95f1f"/>
<path d="M607.86,736.61 L618.69,747.99 L607.86,759.38 L597.02,747.99 Z" fill="#f8511c"/>
<path d="M410.53,725.67 L421.36,737.06 L410.53,748.44 L399.69,737.06 Z" fill="#f95b1e"/>
<path d="M431.30,725.67 L442.14,737.06 L431.30,748.44 L420.46,737.06 Z" fill="#fb8729"/>
<path d="M452.07,725.67 L462.91,737.06 L452.07,748.44 L441.24,737.06 Z" fill="#fde88c"/>
<path d="M472.84,725.67 L483.68,737.06 L472.84,748.44 L462.01,737.06 Z" fill="#fcb948"/>
<path d="M493.61,725.67 L504.45,737.06 L493.61,748.44 L482.78,737.06 Z" fill="#fde383"/>
<path d="M514.39,725.67 L525.22,737.06 L514.39,748.44 L503.55,737.06 Z" fill="#fc9c32"/>
<path d="M535.16,725.67 L545.99,737.06 L535.16,748.44 L524.32,737.06 Z" fill="#f22012"/>
<path d="M555.93,725.67 L566.76,737.06 L555.93,748.44 L545.09,737.06 Z" fill="#fc9c32"/>
<path d="M576.70,725.67 L587.54,737.06 L576.70,748.44 L565.86,737.06 Z" fill="#f43015"/>
<path d="M597.47,725.67 L608.31,737.06 L597.47,748.44 L586.64,737.06 Z" fill="#f95b1e"/>
<path d="M420.91,714.74 L431.75,726.12 L420.91,737.51 L410.08,726.12 Z" fill="#fb922e"/>
<path d="M441.69,714.74 L452.52,726.12 L441.69,737.51 L430.85,726.12 Z" fill="#fdc958"/>
<path d="M462.46,714.74 L473.29,726.12 L462.46,737.51 L451.62,726.12 Z" fill="#fb8729"/>
<path d="M483.23,714.74 L494.06,726.12 L483.23,737.51 L472.39,726.12 Z" fill="#fde587"/>
<path d="M504.00,714.74 L514.84,726.12 L504.00,737.51 L493.16,726.12 Z" fill="#fdd262"/>
<path d="M524.77,714.74 L535.61,726.12 L524.77,737.51 L513.94,726.12 Z" fill="#fcb342"/>
<path d="M545.54,714.74 L556.38,726.12 L545.54,737.51 L534.71,726.12 Z" fill="#f8481a"/>
<path d="M566.31,714.74 L577.15,726.12 L566.31,737.51 L555.48,726.12 Z" fill="#f95b1e"/>
<path d="M587.09,714.74 L597.92,726.12 L587.09,737.51 L576.25,726.12 Z" fill="#fa6921"/>
<path d="M431.30,703.80 L442.14,715.19 L431.30,726.57 L420.46,715.19 Z" fill="#fde383"/>
<path d="M452.07,703.80 L462.91,715.19 L452.07,726.57 L441.24,715.19 Z" fill="#fdd262"/>
<path d="M472.84,703.80 L483.68,715.19 L472.84,726.57 L462.01,715.19 Z" fill="#fde88c"/>
<path d="M493.61,703.80 L504.45,715.19 L493.61,726.57 L482.78,715.19 Z" fill="#fcb948"/>
<path d="M514.39,703.80 L525.22,715.19 L514.39,726.57 L503.55,715.19 Z" fill="#fdd262"/>
<path d="M535.16,703.80 L545.99,715.19 L535.16,726.57 L524.32,715.19 Z" fill="#fdec94"/>
<path d="M555.93,703.80 L566.76,715.19 L555.93,726.57 L545.09,715.19 Z" fill="#f95f1f"/>
<path d="M576.70,703.80 L587.54,715.19 L576.70,726.57 L565.86,715.19 Z" fill="#fb8729"/>
<path d="M441.69,692.86 L452.52,704.25 L441.69,715.64 L430.85,704.25 Z" fill="#fcb948"/>
<path d="M462.46,692.86 L473.29,704.25 L462.46,715.64 L451.62,704.25 Z" fill="#fdd86e"/>
<path d="M483.23,692.86 L494.06,704.25 L483.23,715.64 L472.39,704.25 Z" fill="#fcad3b"/>
<path d="M504.00,692.86 L514.84,704.25 L504.00,715.64 L493.16,704.25 Z" fill="#fdc352"/>
<path d="M524.77,692.86 L535.61,704.25 L524.77,715.64 L513.94,704.25 Z" fill="#fdc958"/>
<path d="M545.54,692.86 L556.38,704.25 L545.54,715.64 L534.71,704.25 Z" fill="#fdc352"/>
<path d="M566.31,692.86 L577.15,704.25 L566.31,715.64 L555.48,704.25 Z" fill="#fb8729"/>
<path d="M452.07,681.93 L462.91,693.31 L452.07,704.70 L441.24,693.31 Z" fill="#fdcc5c"/>
<path d="M472.84,681.93 L483.68,693.31 L472.84,704.70 L462.01,693.31 Z" fill="#fdd262"/>
<path d="M493.61,681.93 L504.45,693.31 L493.61,704.70 L482.78,693.31 Z" fill="#fdc352"/>
<path d="M514.39,681.93 L525.22,693.31 L514.39,704.70 L503.55,693.31 Z" fill="#fdcc5c"/>
<path d="M535.16,681.93 L545.99,693.31 L535.16,704.70 L524.32,693.31 Z" fill="#fdd466"/>
<path d="M555.93,681.93 L566.76,693.31 L555.93,704.70 L545.09,693.31 Z" fill="#fcb342"/>
<path d="M462.46,670.99 L473.29,682.38 L462.46,693.76 L451.62,682.38 Z" fill="#fdf0a1"/>
<path d="M483.23,670.99 L494.06,682.38 L483.23,693.76 L472.39,682.38 Z" fill="#fcb948"/>
<path d="M504.00,670.99 L514.84,682.38 L504.00,693.76 L493.16,682.38 Z" fill="#fdd86e"/>
<path d="M524.77,670.99 L535.61,682.38 L524.77,693.76 L513.94,682.38 Z" fill="#fdea90"/>
<path d="M545.54,670.99 L556.38,682.38 L545.54,693.76 L534.71,682.38 Z" fill="#fdd86e"/>
<path d="M472.84,660.06 L483.68,671.44 L472.84,682.83 L462.01,671.44 Z" fill="#fde88c"/>
<path d="M493.61,660.06 L504.45,671.44 L493.61,682.83 L482.78,671.44 Z" fill="#fef2ab"/>
<path d="M514.39,660.06 L525.22,671.44 L514.39,682.83 L503.55,671.44 Z" fill="#fcb948"/>
<path d="M535.16,660.06 L545.99,671.44 L535.16,682.83 L524.32,671.44 Z" fill="#fddd77"/>
<path d="M483.23,649.12 L494.06,660.51 L483.23,671.89 L472.39,660.51 Z" fill="#fddd77"/>
<path d="M504.00,649.12 L514.84,660.51 L504.00,671.89 L493.16,660.51 Z" fill="#fdd86e"/>
<path d="M524.77,649.12 L535.61,660.51 L524.77,671.89 L513.94,660.51 Z" fill="#fde383"/>
<path d="M493.61,638.19 L504.45,649.57 L493.61,660.96 L482.78,649.57 Z" fill="#fdd66a"/>
<path d="M514.39,638.19 L525.22,649.57 L514.39,660.96 L503.55,649.57 Z" fill="#fdd66a"/>
<path d="M504.00,627.25 L514.84,638.64 L504.00,650.02 L493.16,638.64 Z" fill="#fdf0a1"/>
</g>
<path d="M358.6,780.8 L420.9,715.2 L483.2,780.8" fill="none" stroke="#111" stroke-width="2" stroke-dasharray="4,3"/>
<path d="M483.2,780.8 L566.3,693.3 L649.4,780.8" fill="none" stroke="#111" stroke-width="2" stroke-dasharray="4,3"/>
<rect x="346.4" y="626.1" width="317.1" height="154.7" fill="none" stroke="#000" stroke-width="1.6"/>
<path d="M482.6,787.3 L492.6,813.6 L472.6,813.6 Z" fill="#ffe600" stroke="#2a2a00" stroke-width="1.3" stroke-linejoin="round"/>
<text x="815.0" y="618" font-size="29.7" text-anchor="middle" fill="#000">Chd1</text>
<clipPath id="hc2"><rect x="681.5" y="626.6" width="292.3" height="153.4"/></clipPath>
<g clip-path="url(#hc2)">
<path d="M693.80,768.74 L704.54,780.00 L693.80,791.26 L683.05,780.00 Z" fill="#f8511c"/>
<path d="M714.39,768.74 L725.14,780.00 L714.39,791.26 L703.64,780.00 Z" fill="#ed1311"/>
<path d="M734.98,768.74 L745.73,780.00 L734.98,791.26 L724.24,780.00 Z" fill="#ed1311"/>
<path d="M755.58,768.74 L766.32,780.00 L755.58,791.26 L744.83,780.00 Z" fill="#ed1311"/>
<path d="M776.17,768.74 L786.91,780.00 L776.17,791.26 L765.42,780.00 Z" fill="#ed1311"/>
<path d="M796.76,768.74 L807.51,780.00 L796.76,791.26 L786.01,780.00 Z" fill="#fb922e"/>
<path d="M817.35,768.74 L828.10,780.00 L817.35,791.26 L806.61,780.00 Z" fill="#e71114"/>
<path d="M837.95,768.74 L848.69,780.00 L837.95,791.26 L827.20,780.00 Z" fill="#ed1311"/>
<path d="M858.54,768.74 L869.29,780.00 L858.54,791.26 L847.79,780.00 Z" fill="#ed1311"/>
<path d="M879.13,768.74 L889.88,780.00 L879.13,791.26 L868.39,780.00 Z" fill="#ed1311"/>
<path d="M899.72,768.74 L910.47,780.00 L899.72,791.26 L888.98,780.00 Z" fill="#f8511c"/>
<path d="M920.32,768.74 L931.06,780.00 L920.32,791.26 L909.57,780.00 Z" fill="#fa7724"/>
<path d="M940.91,768.74 L951.66,780.00 L940.91,791.26 L930.16,780.00 Z" fill="#f8481a"/>
<path d="M961.50,768.74 L972.25,780.00 L961.50,791.26 L950.76,780.00 Z" fill="#f32814"/>
<path d="M704.09,757.92 L714.84,769.19 L704.09,780.45 L693.35,769.19 Z" fill="#f8481a"/>
<path d="M724.69,757.92 L735.43,769.19 L724.69,780.45 L713.94,769.19 Z" fill="#ed1311"/>
<path d="M745.28,757.92 L756.03,769.19 L745.28,780.45 L734.53,769.19 Z" fill="#ed1311"/>
<path d="M765.87,757.92 L776.62,769.19 L765.87,780.45 L755.12,769.19 Z" fill="#ed1311"/>
<path d="M786.46,757.92 L797.21,769.19 L786.46,780.45 L775.72,769.19 Z" fill="#fb922e"/>
<path d="M807.06,757.92 L817.80,769.19 L807.06,780.45 L796.31,769.19 Z" fill="#fc9c32"/>
<path d="M827.65,757.92 L838.40,769.19 L827.65,780.45 L816.90,769.19 Z" fill="#d10b1e"/>
<path d="M848.24,757.92 L858.99,769.19 L848.24,780.45 L837.50,769.19 Z" fill="#ed1311"/>
<path d="M868.84,757.92 L879.58,769.19 L868.84,780.45 L858.09,769.19 Z" fill="#da0e1a"/>
<path d="M889.43,757.92 L900.17,769.19 L889.43,780.45 L878.68,769.19 Z" fill="#f11811"/>
<path d="M910.02,757.92 L920.77,769.19 L910.02,780.45 L899.27,769.19 Z" fill="#f95f1f"/>
<path d="M930.61,757.92 L941.36,769.19 L930.61,780.45 L919.87,769.19 Z" fill="#fb8026"/>
<path d="M951.21,757.92 L961.95,769.19 L951.21,780.45 L940.46,769.19 Z" fill="#f22012"/>
<path d="M714.39,747.11 L725.14,758.37 L714.39,769.64 L703.64,758.37 Z" fill="#f8481a"/>
<path d="M734.98,747.11 L745.73,758.37 L734.98,769.64 L724.24,758.37 Z" fill="#ed1311"/>
<path d="M755.58,747.11 L766.32,758.37 L755.58,769.64 L744.83,758.37 Z" fill="#ed1311"/>
<path d="M776.17,747.11 L786.91,758.37 L776.17,769.64 L765.42,758.37 Z" fill="#fc9c32"/>
<path d="M817.35,747.11 L828.10,758.37 L817.35,769.64 L806.61,758.37 Z" fill="#fc9c32"/>
<path d="M837.95,747.11 L848.69,758.37 L837.95,769.64 L827.20,758.37 Z" fill="#da0e1a"/>
<path d="M858.54,747.11 L869.29,758.37 L858.54,769.64 L847.79,758.37 Z" fill="#ed1311"/>
<path d="M879.13,747.11 L889.88,758.37 L879.13,769.64 L868.39,758.37 Z" fill="#f22012"/>
<path d="M899.72,747.11 L910.47,758.37 L899.72,769.64 L888.98,758.37 Z" fill="#f95f1f"/>
<path d="M920.32,747.11 L931.06,758.37 L920.32,769.64 L909.57,758.37 Z" fill="#fb8026"/>
<path d="M940.91,747.11 L951.66,758.37 L940.91,769.64 L930.16,758.37 Z" fill="#fa6921"/>
<path d="M724.69,736.29 L735.43,747.56 L724.69,758.82 L713.94,747.56 Z" fill="#f8481a"/>
<path d="M745.28,736.29 L756.03,747.56 L745.28,758.82 L734.53,747.56 Z" fill="#ed1311"/>
<path d="M765.87,736.29 L776.62,747.56 L765.87,758.82 L755.12,747.56 Z" fill="#fb922e"/>
<path d="M786.46,736.29 L797.21,747.56 L786.46,758.82 L775.72,747.56 Z" fill="#fef3af"/>
<path d="M807.06,736.29 L817.80,747.56 L807.06,758.82 L796.31,747.56 Z" fill="#fdc958"/>
<path d="M827.65,736.29 L838.40,747.56 L827.65,758.82 L816.90,747.56 Z" fill="#fcb948"/>
<path d="M848.24,736.29 L858.99,747.56 L848.24,758.82 L837.50,747.56 Z" fill="#ed1311"/>
<path d="M868.84,736.29 L879.58,747.56 L868.84,758.82 L858.09,747.56 Z" fill="#f74018"/>
<path d="M889.43,736.29 L900.17,747.56 L889.43,758.82 L878.68,747.56 Z" fill="#f95f1f"/>
<path d="M910.02,736.29 L920.77,747.56 L910.02,758.82 L899.27,747.56 Z" fill="#fc9830"/>
<path d="M930.61,736.29 L941.36,747.56 L930.61,758.82 L919.87,747.56 Z" fill="#fb922e"/>
<path d="M734.98,725.48 L745.73,736.74 L734.98,748.01 L724.24,736.74 Z" fill="#f95f1f"/>
<path d="M755.58,725.48 L766.32,736.74 L755.58,748.01 L744.83,736.74 Z" fill="#fca335"/>
<path d="M776.17,725.48 L786.91,736.74 L776.17,748.01 L765.42,736.74 Z" fill="#fdc958"/>
<path d="M796.76,725.48 L807.51,736.74 L796.76,748.01 L786.01,736.74 Z" fill="#fdee98"/>
<path d="M817.35,725.48 L828.10,736.74 L817.35,748.01 L806.61,736.74 Z" fill="#fdc352"/>
<path d="M837.95,725.48 L848.69,736.74 L837.95,748.01 L827.20,736.74 Z" fill="#fcb948"/>
<path d="M858.54,725.48 L869.29,736.74 L858.54,748.01 L847.79,736.74 Z" fill="#f11811"/>
<path d="M879.13,725.48 L889.88,736.74 L879.13,748.01 L868.39,736.74 Z" fill="#fa6921"/>
<path d="M899.72,725.48 L910.47,736.74 L899.72,748.01 L888.98,736.74 Z" fill="#fc9c32"/>
<path d="M920.32,725.48 L931.06,736.74 L920.32,748.01 L909.57,736.74 Z" fill="#fb8026"/>
<path d="M745.28,714.66 L756.03,725.93 L745.28,737.19 L734.53,725.93 Z" fill="#fdd262"/>
<path d="M786.46,714.66 L797.21,725.93 L786.46,737.19 L775.72,725.93 Z" fill="#fdd262"/>
<path d="M807.06,714.66 L817.80,725.93 L807.06,737.19 L796.31,725.93 Z" fill="#fdcc5c"/>
<path d="M827.65,714.66 L838.40,725.93 L827.65,737.19 L816.90,725.93 Z" fill="#fef4b4"/>
<path d="M848.24,714.66 L858.99,725.93 L848.24,737.19 L837.50,725.93 Z" fill="#fdd262"/>
<path d="M868.84,714.66 L879.58,725.93 L868.84,737.19 L858.09,725.93 Z" fill="#f22012"/>
<path d="M889.43,714.66 L900.17,725.93 L889.43,737.19 L878.68,725.93 Z" fill="#fb922e"/>
<path d="M910.02,714.66 L920.77,725.93 L910.02,737.19 L899.27,725.93 Z" fill="#fb8729"/>
<path d="M755.58,703.85 L766.32,715.11 L755.58,726.38 L744.83,715.11 Z" fill="#fdf0a1"/>
<path d="M776.17,703.85 L786.91,715.11 L776.17,726.38 L765.42,715.11 Z" fill="#fdd262"/>
<path d="M796.76,703.85 L807.51,715.11 L796.76,726.38 L786.01,715.11 Z" fill="#fef3af"/>
<path d="M817.35,703.85 L828.10,715.11 L817.35,726.38 L806.61,715.11 Z" fill="#fdd262"/>
<path d="M837.95,703.85 L848.69,715.11 L837.95,726.38 L827.20,715.11 Z" fill="#fdee98"/>
<path d="M858.54,703.85 L869.29,715.11 L858.54,726.38 L847.79,715.11 Z" fill="#fdd86e"/>
<path d="M879.13,703.85 L889.88,715.11 L879.13,726.38 L868.39,715.11 Z" fill="#fb8729"/>
<path d="M899.72,703.85 L910.47,715.11 L899.72,726.38 L888.98,715.11 Z" fill="#fc9c32"/>
<path d="M765.87,693.04 L776.62,704.30 L765.87,715.56 L755.12,704.30 Z" fill="#fdd262"/>
<path d="M786.46,693.04 L797.21,704.30 L786.46,715.56 L775.72,704.30 Z" fill="#fef4b4"/>
<path d="M807.06,693.04 L817.80,704.30 L807.06,715.56 L796.31,704.30 Z" fill="#fdf0a1"/>
<path d="M827.65,693.04 L838.40,704.30 L827.65,715.56 L816.90,704.30 Z" fill="#fdd86e"/>
<path d="M848.24,693.04 L858.99,704.30 L848.24,715.56 L837.50,704.30 Z" fill="#fdee98"/>
<path d="M868.84,693.04 L879.58,704.30 L868.84,715.56 L858.09,704.30 Z" fill="#fde383"/>
<path d="M889.43,693.04 L900.17,704.30 L889.43,715.56 L878.68,704.30 Z" fill="#fb922e"/>
<path d="M776.17,682.22 L786.91,693.49 L776.17,704.75 L765.42,693.49 Z" fill="#fef3af"/>
<path d="M796.76,682.22 L807.51,693.49 L796.76,704.75 L786.01,693.49 Z" fill="#fef3af"/>
<path d="M817.35,682.22 L828.10,693.49 L817.35,704.75 L806.61,693.49 Z" fill="#fde383"/>
<path d="M837.95,682.22 L848.69,693.49 L837.95,704.75 L827.20,693.49 Z" fill="#fdf0a1"/>
<path d="M879.13,682.22 L889.88,693.49 L879.13,704.75 L868.39,693.49 Z" fill="#fdee98"/>
<path d="M807.06,671.41 L817.80,682.67 L807.06,693.94 L796.31,682.67 Z" fill="#fdd86e"/>
<path d="M827.65,671.41 L838.40,682.67 L827.65,693.94 L816.90,682.67 Z" fill="#fdd466"/>
<path d="M868.84,671.41 L879.58,682.67 L868.84,693.94 L858.09,682.67 Z" fill="#fef3af"/>
<path d="M837.95,660.59 L848.69,671.86 L837.95,683.12 L827.20,671.86 Z" fill="#fef4b4"/>
<path d="M858.54,660.59 L869.29,671.86 L858.54,683.12 L847.79,671.86 Z" fill="#fef8c2"/>
<path d="M807.06,649.78 L817.80,661.04 L807.06,672.31 L796.31,661.04 Z" fill="#fdd86e"/>
<path d="M848.24,649.78 L858.99,661.04 L848.24,672.31 L837.50,661.04 Z" fill="#fef7bd"/>
<path d="M837.95,638.96 L848.69,650.23 L837.95,661.49 L827.20,650.23 Z" fill="#fddd77"/>
<path d="M827.65,628.15 L838.40,639.41 L827.65,650.68 L816.90,639.41 Z" fill="#fef2ab"/>
</g>
<path d="M827.6,628.6 L761.8,697.8" fill="none" stroke="#7a7a7a" stroke-width="0.8"/>
<path d="M683.5,780.0 L735.0,725.9 L786.5,780.0" fill="none" stroke="#111" stroke-width="2" stroke-dasharray="4,3"/>
<path d="M807.1,780.0 L889.4,693.5 L971.8,780.0" fill="none" stroke="#111" stroke-width="2" stroke-dasharray="4,3"/>
<rect x="672.1" y="626.3" width="313.3" height="153.7" fill="none" stroke="#000" stroke-width="1.6"/>
<path d="M801.8,787.3 L811.8,813.6 L791.8,813.6 Z" fill="#ffe600" stroke="#2a2a00" stroke-width="1.3" stroke-linejoin="round"/>
<text x="1147.7" y="618" font-size="29.7" text-anchor="middle" fill="#000">Control (TF only)</text>
<clipPath id="hc3"><rect x="1005.2" y="626.9" width="286.5" height="152.5"/></clipPath>
<g clip-path="url(#hc3)">
<path d="M1017.29,768.20 L1027.83,779.40 L1017.29,790.60 L1006.75,779.40 Z" fill="#fb922e"/>
<path d="M1037.47,768.20 L1048.01,779.40 L1037.47,790.60 L1026.93,779.40 Z" fill="#fa6921"/>
<path d="M1057.65,768.20 L1068.19,779.40 L1057.65,790.60 L1047.11,779.40 Z" fill="#fb8026"/>
<path d="M1077.83,768.20 L1088.36,779.40 L1077.83,790.60 L1067.29,779.40 Z" fill="#fa6921"/>
<path d="M1098.00,768.20 L1108.54,779.40 L1098.00,790.60 L1087.46,779.40 Z" fill="#f8511c"/>
<path d="M1118.18,768.20 L1128.72,779.40 L1118.18,790.60 L1107.64,779.40 Z" fill="#f32814"/>
<path d="M1138.36,768.20 L1148.90,779.40 L1138.36,790.60 L1127.82,779.40 Z" fill="#f95f1f"/>
<path d="M1158.54,768.20 L1169.08,779.40 L1158.54,790.60 L1148.00,779.40 Z" fill="#f8511c"/>
<path d="M1178.72,768.20 L1189.26,779.40 L1178.72,790.60 L1168.18,779.40 Z" fill="#f32814"/>
<path d="M1198.90,768.20 L1209.44,779.40 L1198.90,790.60 L1188.36,779.40 Z" fill="#f95f1f"/>
<path d="M1219.08,768.20 L1229.61,779.40 L1219.08,790.60 L1208.54,779.40 Z" fill="#fb8026"/>
<path d="M1239.25,768.20 L1249.79,779.40 L1239.25,790.60 L1228.71,779.40 Z" fill="#fb8729"/>
<path d="M1259.43,768.20 L1269.97,779.40 L1259.43,790.60 L1248.89,779.40 Z" fill="#fb922e"/>
<path d="M1279.61,768.20 L1290.15,779.40 L1279.61,790.60 L1269.07,779.40 Z" fill="#fb922e"/>
<path d="M1027.38,757.45 L1037.92,768.65 L1027.38,779.85 L1016.84,768.65 Z" fill="#fc9c32"/>
<path d="M1047.56,757.45 L1058.10,768.65 L1047.56,779.85 L1037.02,768.65 Z" fill="#f8511c"/>
<path d="M1067.74,757.45 L1078.28,768.65 L1067.74,779.85 L1057.20,768.65 Z" fill="#f95f1f"/>
<path d="M1087.91,757.45 L1098.45,768.65 L1087.91,779.85 L1077.38,768.65 Z" fill="#f8511c"/>
<path d="M1108.09,757.45 L1118.63,768.65 L1108.09,779.85 L1097.55,768.65 Z" fill="#f8481a"/>
<path d="M1128.27,757.45 L1138.81,768.65 L1128.27,779.85 L1117.73,768.65 Z" fill="#fb922e"/>
<path d="M1148.45,757.45 L1158.99,768.65 L1148.45,779.85 L1137.91,768.65 Z" fill="#ed1311"/>
<path d="M1168.63,757.45 L1179.17,768.65 L1168.63,779.85 L1158.09,768.65 Z" fill="#f95f1f"/>
<path d="M1188.81,757.45 L1199.35,768.65 L1188.81,779.85 L1178.27,768.65 Z" fill="#ed1311"/>
<path d="M1208.99,757.45 L1219.53,768.65 L1208.99,779.85 L1198.45,768.65 Z" fill="#fb8026"/>
<path d="M1229.16,757.45 L1239.70,768.65 L1229.16,779.85 L1218.62,768.65 Z" fill="#fb922e"/>
<path d="M1249.34,757.45 L1259.88,768.65 L1249.34,779.85 L1238.80,768.65 Z" fill="#fc9c32"/>
<path d="M1269.52,757.45 L1280.06,768.65 L1269.52,779.85 L1258.98,768.65 Z" fill="#fb922e"/>
<path d="M1037.47,746.70 L1048.01,757.90 L1037.47,769.10 L1026.93,757.90 Z" fill="#fb8026"/>
<path d="M1057.65,746.70 L1068.19,757.90 L1057.65,769.10 L1047.11,757.90 Z" fill="#f95f1f"/>
<path d="M1077.83,746.70 L1088.36,757.90 L1077.83,769.10 L1067.29,757.90 Z" fill="#fa6921"/>
<path d="M1098.00,746.70 L1108.54,757.90 L1098.00,769.10 L1087.46,757.90 Z" fill="#fb8026"/>
<path d="M1118.18,746.70 L1128.72,757.90 L1118.18,769.10 L1107.64,757.90 Z" fill="#fb922e"/>
<path d="M1138.36,746.70 L1148.90,757.90 L1138.36,769.10 L1127.82,757.90 Z" fill="#fb8026"/>
<path d="M1158.54,746.70 L1169.08,757.90 L1158.54,769.10 L1148.00,757.90 Z" fill="#f22012"/>
<path d="M1178.72,746.70 L1189.26,757.90 L1178.72,769.10 L1168.18,757.90 Z" fill="#f95f1f"/>
<path d="M1198.90,746.70 L1209.44,757.90 L1198.90,769.10 L1188.36,757.90 Z" fill="#f8481a"/>
<path d="M1219.08,746.70 L1229.61,757.90 L1219.08,769.10 L1208.54,757.90 Z" fill="#fa7724"/>
<path d="M1239.25,746.70 L1249.79,757.90 L1239.25,769.10 L1228.71,757.90 Z" fill="#fb8026"/>
<path d="M1259.43,746.70 L1269.97,757.90 L1259.43,769.10 L1248.89,757.90 Z" fill="#fb8729"/>
<path d="M1047.56,735.95 L1058.10,747.15 L1047.56,758.35 L1037.02,747.15 Z" fill="#fb922e"/>
<path d="M1067.74,735.95 L1078.28,747.15 L1067.74,758.35 L1057.20,747.15 Z" fill="#fb8729"/>
<path d="M1087.91,735.95 L1098.45,747.15 L1087.91,758.35 L1077.38,747.15 Z" fill="#fc9c32"/>
<path d="M1108.09,735.95 L1118.63,747.15 L1108.09,758.35 L1097.55,747.15 Z" fill="#fcb03e"/>
<path d="M1128.27,735.95 L1138.81,747.15 L1128.27,758.35 L1117.73,747.15 Z" fill="#fb8729"/>
<path d="M1148.45,735.95 L1158.99,747.15 L1148.45,758.35 L1137.91,747.15 Z" fill="#fc9c32"/>
<path d="M1168.63,735.95 L1179.17,747.15 L1168.63,758.35 L1158.09,747.15 Z" fill="#f74018"/>
<path d="M1188.81,735.95 L1199.35,747.15 L1188.81,758.35 L1178.27,747.15 Z" fill="#fb8729"/>
<path d="M1208.99,735.95 L1219.53,747.15 L1208.99,758.35 L1198.45,747.15 Z" fill="#fb8026"/>
<path d="M1229.16,735.95 L1239.70,747.15 L1229.16,758.35 L1218.62,747.15 Z" fill="#fc9c32"/>
<path d="M1249.34,735.95 L1259.88,747.15 L1249.34,758.35 L1238.80,747.15 Z" fill="#fc9c32"/>
<path d="M1057.65,725.20 L1068.19,736.40 L1057.65,747.60 L1047.11,736.40 Z" fill="#fc9c32"/>
<path d="M1077.83,725.20 L1088.36,736.40 L1077.83,747.60 L1067.29,736.40 Z" fill="#fca335"/>
<path d="M1098.00,725.20 L1108.54,736.40 L1098.00,747.60 L1087.46,736.40 Z" fill="#fdee98"/>
<path d="M1118.18,725.20 L1128.72,736.40 L1118.18,747.60 L1107.64,736.40 Z" fill="#fcb03e"/>
<path d="M1138.36,725.20 L1148.90,736.40 L1138.36,747.60 L1127.82,736.40 Z" fill="#fca335"/>
<path d="M1158.54,725.20 L1169.08,736.40 L1158.54,747.60 L1148.00,736.40 Z" fill="#fcb948"/>
<path d="M1178.72,725.20 L1189.26,736.40 L1178.72,747.60 L1168.18,736.40 Z" fill="#fb922e"/>
<path d="M1198.90,725.20 L1209.44,736.40 L1198.90,747.60 L1188.36,736.40 Z" fill="#fdc352"/>
<path d="M1219.08,725.20 L1229.61,736.40 L1219.08,747.60 L1208.54,736.40 Z" fill="#fc9c32"/>
<path d="M1239.25,725.20 L1249.79,736.40 L1239.25,747.60 L1228.71,736.40 Z" fill="#fca335"/>
<path d="M1067.74,714.45 L1078.28,725.65 L1067.74,736.85 L1057.20,725.65 Z" fill="#fdc352"/>
<path d="M1087.91,714.45 L1098.45,725.65 L1087.91,736.85 L1077.38,725.65 Z" fill="#fcb948"/>
<path d="M1108.09,714.45 L1118.63,725.65 L1108.09,736.85 L1097.55,725.65 Z" fill="#fcaa38"/>
<path d="M1128.27,714.45 L1138.81,725.65 L1128.27,736.85 L1117.73,725.65 Z" fill="#fdd262"/>
<path d="M1148.45,714.45 L1158.99,725.65 L1148.45,736.85 L1137.91,725.65 Z" fill="#fef3af"/>
<path d="M1168.63,714.45 L1179.17,725.65 L1168.63,736.85 L1158.09,725.65 Z" fill="#fca335"/>
<path d="M1188.81,714.45 L1199.35,725.65 L1188.81,736.85 L1178.27,725.65 Z" fill="#fdd466"/>
<path d="M1208.99,714.45 L1219.53,725.65 L1208.99,736.85 L1198.45,725.65 Z" fill="#fcb03e"/>
<path d="M1229.16,714.45 L1239.70,725.65 L1229.16,736.85 L1218.62,725.65 Z" fill="#fde88c"/>
<path d="M1077.83,703.70 L1088.36,714.90 L1077.83,726.10 L1067.29,714.90 Z" fill="#fdea90"/>
<path d="M1098.00,703.70 L1108.54,714.90 L1098.00,726.10 L1087.46,714.90 Z" fill="#fca335"/>
<path d="M1118.18,703.70 L1128.72,714.90 L1118.18,726.10 L1107.64,714.90 Z" fill="#fdd262"/>
<path d="M1138.36,703.70 L1148.90,714.90 L1138.36,726.10 L1127.82,714.90 Z" fill="#fdcc5c"/>
<path d="M1158.54,703.70 L1169.08,714.90 L1158.54,726.10 L1148.00,714.90 Z" fill="#fdd86e"/>
<path d="M1178.72,703.70 L1189.26,714.90 L1178.72,726.10 L1168.18,714.90 Z" fill="#fdd262"/>
<path d="M1198.90,703.70 L1209.44,714.90 L1198.90,726.10 L1188.36,714.90 Z" fill="#fcb342"/>
<path d="M1219.08,703.70 L1229.61,714.90 L1219.08,726.10 L1208.54,714.90 Z" fill="#fdc352"/>
<path d="M1087.91,692.95 L1098.45,704.15 L1087.91,715.35 L1077.38,704.15 Z" fill="#fdee98"/>
<path d="M1108.09,692.95 L1118.63,704.15 L1108.09,715.35 L1097.55,704.15 Z" fill="#fcb03e"/>
<path d="M1128.27,692.95 L1138.81,704.15 L1128.27,715.35 L1117.73,704.15 Z" fill="#fdd262"/>
<path d="M1148.45,692.95 L1158.99,704.15 L1148.45,715.35 L1137.91,704.15 Z" fill="#fef3af"/>
<path d="M1168.63,692.95 L1179.17,704.15 L1168.63,715.35 L1158.09,704.15 Z" fill="#fdd86e"/>
<path d="M1188.81,692.95 L1199.35,704.15 L1188.81,715.35 L1178.27,704.15 Z" fill="#fdd466"/>
<path d="M1208.99,692.95 L1219.53,704.15 L1208.99,715.35 L1198.45,704.15 Z" fill="#fca335"/>
<path d="M1098.00,682.20 L1108.54,693.40 L1098.00,704.60 L1087.46,693.40 Z" fill="#fcb03e"/>
<path d="M1138.36,682.20 L1148.90,693.40 L1138.36,704.60 L1127.82,693.40 Z" fill="#fdd262"/>
<path d="M1158.54,682.20 L1169.08,693.40 L1158.54,704.60 L1148.00,693.40 Z" fill="#fde17f"/>
<path d="M1198.90,682.20 L1209.44,693.40 L1198.90,704.60 L1188.36,693.40 Z" fill="#fcb948"/>
<path d="M1108.09,671.45 L1118.63,682.65 L1108.09,693.85 L1097.55,682.65 Z" fill="#fef2ab"/>
<path d="M1128.27,671.45 L1138.81,682.65 L1128.27,693.85 L1117.73,682.65 Z" fill="#fcb342"/>
<path d="M1148.45,671.45 L1158.99,682.65 L1148.45,693.85 L1137.91,682.65 Z" fill="#fdee98"/>
<path d="M1168.63,671.45 L1179.17,682.65 L1168.63,693.85 L1158.09,682.65 Z" fill="#fdc352"/>
<path d="M1188.81,671.45 L1199.35,682.65 L1188.81,693.85 L1178.27,682.65 Z" fill="#fde383"/>
<path d="M1118.18,660.70 L1128.72,671.90 L1118.18,683.10 L1107.64,671.90 Z" fill="#fdee98"/>
<path d="M1138.36,660.70 L1148.90,671.90 L1138.36,683.10 L1127.82,671.90 Z" fill="#fdd86e"/>
<path d="M1178.72,660.70 L1189.26,671.90 L1178.72,683.10 L1168.18,671.90 Z" fill="#fdd262"/>
<path d="M1138.36,639.20 L1148.90,650.40 L1138.36,661.60 L1127.82,650.40 Z" fill="#fdee98"/>
<path d="M1158.54,639.20 L1169.08,650.40 L1158.54,661.60 L1148.00,650.40 Z" fill="#fdef9d"/>
<path d="M1148.45,628.45 L1158.99,639.65 L1148.45,650.85 L1137.91,639.65 Z" fill="#fdd262"/>
</g>
<path d="M1148.5,628.9 L1083.9,697.7" fill="none" stroke="#7a7a7a" stroke-width="0.8"/>
<rect x="992.8" y="626.7" width="313.2" height="152.7" fill="none" stroke="#000" stroke-width="1.6"/>
<rect x="1312.3" y="625.3" width="11.2" height="64.4" fill="url(#cbar)" stroke="#555" stroke-width="0.9"/>
<text x="1327.5" y="636.3" font-size="21.5" fill="#000">3</text>
<text x="1330.0" y="694.0" font-size="21" fill="#000">0.1</text>
<text transform="translate(1335.2,707.2) rotate(90)" font-size="23" fill="#000">Contact</text>
<text transform="translate(1312.6,696.2) rotate(90)" font-size="23" fill="#000">frequency</text>
<defs>
<radialGradient id="sgP" cx="0.42" cy="0.38" r="0.62" fx="0.35" fy="0.3"><stop offset="0" stop-color="#9240ff"/><stop offset="0.55" stop-color="#7412f0"/><stop offset="1" stop-color="#4c06a6"/></radialGradient>
<radialGradient id="sgR" cx="0.42" cy="0.38" r="0.62" fx="0.35" fy="0.3"><stop offset="0" stop-color="#ff4a3a"/><stop offset="0.55" stop-color="#f20a0a"/><stop offset="1" stop-color="#a80000"/></radialGradient>
<radialGradient id="sgO" cx="0.42" cy="0.38" r="0.62" fx="0.35" fy="0.3"><stop offset="0" stop-color="#ffa83a"/><stop offset="0.55" stop-color="#f08212"/><stop offset="1" stop-color="#b05a00"/></radialGradient>
<radialGradient id="sgG" cx="0.42" cy="0.38" r="0.62" fx="0.35" fy="0.3"><stop offset="0" stop-color="#6c6c6c"/><stop offset="0.55" stop-color="#545454"/><stop offset="1" stop-color="#383838"/></radialGradient>
</defs>
<path d="M32.6,889.0 C33.0,881.9 35.1,877.1 40.1,872.7 C45.1,868.3 54.3,864.4 62.7,862.7 C71.1,861.0 84.5,864.4 90.3,862.7 C96.1,861.0 94.9,856.9 97.8,852.7 C100.7,848.5 102.8,841.6 107.8,837.6 C112.8,833.6 121.6,829.7 127.9,828.9 C134.2,828.1 141.4,829.9 145.4,832.6 C149.4,835.3 150.4,838.9 151.7,845.2 C153.0,851.5 152.9,861.9 153.0,870.2 C153.1,878.5 151.6,888.0 152.0,895.0 C152.4,902.0 154.7,905.3 155.5,912.0 C156.3,918.7 157.8,928.6 157.0,935.0 C156.2,941.4 154.5,946.2 150.5,950.5 C146.5,954.8 139.6,957.6 132.9,960.5 C126.2,963.4 118.2,967.2 110.3,968.0 C102.4,968.8 91.6,968.4 85.3,965.5 C79.0,962.6 75.2,956.4 72.7,950.5 C70.2,944.6 73.5,934.6 70.2,930.4 C66.9,926.2 58.1,927.9 52.7,925.4 C47.3,922.9 41.0,921.5 37.6,915.4 C34.2,909.3 32.2,896.1 32.6,889.0 Z" fill="none" stroke="#1a1a1a" stroke-width="1.7" stroke-dasharray="3.6,3.8"/>
<path d="M160.5,840.2 C163.4,832.2 169.2,832.2 175.5,830.1 C181.8,828.0 190.6,826.4 198.1,827.6 C205.6,828.9 213.6,833.8 220.7,837.6 C227.8,841.4 235.3,845.2 240.7,850.2 C246.1,855.2 247.9,863.5 253.3,867.7 C258.7,871.9 265.8,873.6 273.3,875.3 C280.8,877.0 292.1,874.5 298.4,877.8 C304.7,881.1 308.4,888.6 310.9,895.3 C313.4,902.0 314.2,910.4 313.4,917.9 C312.6,925.4 310.5,935.4 305.9,940.4 C301.3,945.4 292.2,945.5 285.9,948.0 C279.6,950.5 272.5,950.9 268.3,955.5 C264.1,960.1 263.7,970.2 260.8,975.6 C257.9,981.0 255.8,985.2 250.8,988.1 C245.8,991.0 237.8,993.5 230.7,993.1 C223.6,992.7 214.8,989.0 208.1,985.6 C201.4,982.2 196.4,977.2 190.6,973.0 C184.8,968.8 178.0,965.1 173.0,960.5 C168.0,955.9 163.0,953.0 160.5,945.5 C158.0,938.0 158.4,926.7 158.0,915.4 C157.6,904.1 157.6,890.3 158.0,877.8 C158.4,865.3 157.6,848.2 160.5,840.2 Z" fill="none" stroke="#1a1a1a" stroke-width="1.7" stroke-dasharray="3.6,3.8"/>
<path d="M385.1,830.1 C390.0,822.6 402.8,822.1 412.0,820.0 C421.2,817.9 432.7,814.7 440.3,817.6 C447.9,820.5 451.2,829.7 457.9,837.6 C464.6,845.5 476.2,851.8 480.4,865.2 C484.6,878.6 483.0,902.0 483.0,917.9 C483.0,933.8 482.5,949.2 480.4,960.5 C478.3,971.8 477.1,981.0 470.4,985.6 C463.7,990.2 448.2,989.8 440.3,988.1 C432.4,986.4 426.5,982.6 422.7,975.5 C418.9,968.4 421.0,951.2 417.7,945.4 C414.4,939.5 411.0,942.5 402.7,940.4 C394.4,938.3 374.7,938.8 367.6,932.9 C360.5,927.0 359.6,913.7 360.0,905.3 C360.4,896.9 366.3,889.4 370.1,882.7 C373.9,876.0 380.1,874.0 382.6,865.2 C385.1,856.4 380.2,837.6 385.1,830.1 Z" fill="none" stroke="#1a1a1a" stroke-width="1.7" stroke-dasharray="3.6,3.8"/>
<path d="M500.5,835.1 C507.2,830.1 521.8,828.8 530.6,832.6 C539.4,836.4 545.6,850.2 553.1,857.7 C560.6,865.2 569.4,871.4 575.7,877.7 C582.0,884.0 583.3,891.5 590.8,895.3 C598.3,899.1 613.7,894.9 620.8,900.3 C627.9,905.7 631.7,919.1 633.4,927.9 C635.1,936.7 634.7,946.7 630.9,953.0 C627.1,959.3 620.8,962.6 610.8,965.5 C600.8,968.4 579.9,968.4 570.7,970.5 C561.5,972.6 564.8,976.3 555.6,978.0 C546.4,979.7 526.8,980.9 515.5,980.5 C504.2,980.1 493.3,982.6 487.9,975.5 C482.5,968.4 483.3,950.4 482.9,937.9 C482.5,925.4 484.1,912.8 485.4,900.3 C486.7,887.8 488.0,873.6 490.5,862.7 C493.0,851.8 493.8,840.1 500.5,835.1 Z" fill="none" stroke="#1a1a1a" stroke-width="1.7" stroke-dasharray="3.6,3.8"/>
<path d="M677.6,930.4 C681.8,924.1 690.5,922.1 697.6,917.9 C704.7,913.7 713.9,912.4 720.2,905.3 C726.5,898.2 727.7,881.5 735.2,875.2 C742.7,868.9 758.2,867.3 765.3,867.7 C772.4,868.1 772.9,875.4 777.9,877.7 C782.9,880.0 788.3,880.7 795.4,881.5 C802.5,882.3 814.2,880.4 820.5,882.7 C826.8,885.0 830.5,889.4 833.0,895.3 C835.5,901.2 835.9,910.4 835.5,917.9 C835.1,925.4 833.0,933.3 830.5,940.4 C828.0,947.5 823.0,953.0 820.5,960.5 C818.0,968.0 818.9,978.9 815.5,985.6 C812.1,992.3 807.9,996.9 800.4,1000.6 C792.9,1004.4 779.9,1008.1 770.3,1008.1 C760.7,1008.1 748.1,1003.5 742.7,1000.6 C737.3,997.7 743.1,992.7 737.7,990.6 C732.3,988.5 719.4,989.8 710.2,988.1 C701.0,986.4 688.9,985.9 682.6,980.5 C676.3,975.1 673.3,963.9 672.5,955.5 C671.7,947.1 673.4,936.7 677.6,930.4 Z" fill="none" stroke="#1a1a1a" stroke-width="1.7" stroke-dasharray="3.6,3.8"/>
<path d="M845.6,895.3 C848.1,888.2 857.7,887.3 865.6,882.7 C873.5,878.1 885.7,871.5 893.2,867.7 C900.7,864.0 906.6,865.2 910.8,860.2 C915.0,855.2 916.2,843.9 918.3,837.6 C920.4,831.3 918.3,825.9 923.3,822.6 C928.3,819.3 939.2,817.6 948.4,817.6 C957.6,817.6 971.8,818.4 978.5,822.6 C985.2,826.8 987.2,834.7 988.5,842.6 C989.8,850.5 986.4,860.6 986.0,870.2 C985.6,879.8 986.8,890.3 986.0,900.3 C985.2,910.3 983.9,921.2 981.0,930.4 C978.1,939.6 971.8,948.4 968.4,955.5 C965.0,962.6 966.3,968.8 960.9,973.0 C955.5,977.2 945.8,980.5 935.8,980.5 C925.8,980.5 912.0,975.5 900.7,973.0 C889.4,970.5 876.0,968.8 868.1,965.5 C860.2,962.2 856.0,959.7 853.1,953.0 C850.2,946.3 851.9,935.0 850.6,925.4 C849.4,915.8 843.1,902.4 845.6,895.3 Z" fill="none" stroke="#1a1a1a" stroke-width="1.7" stroke-dasharray="3.6,3.8"/>
<path d="M128,884 L150,888 L175,897 L205,905 L232,912" fill="none" stroke="#5a5a5a" stroke-width="5.4" stroke-linecap="round" stroke-linejoin="round"/>
<path d="M128,884 L150,888 L175,897 L205,905 L232,912" fill="none" stroke="#979797" stroke-width="3.2" stroke-linecap="round" stroke-linejoin="round"/>
<path d="M94.0,859.3 L99.2,863.1 L104.4,873.4 L107.1,886.3 L105.6,896.5 L100.3,900.3" fill="none" stroke="#5a5a5a" stroke-width="5.4" stroke-linecap="round" stroke-linejoin="round"/>
<path d="M94.0,859.3 L99.2,863.1 L104.4,873.4 L107.1,886.3 L105.6,896.5 L100.3,900.3" fill="none" stroke="#979797" stroke-width="3.2" stroke-linecap="round" stroke-linejoin="round"/>
<path d="M85.0,863.4 L90.6,869.5" fill="none" stroke="#5a5a5a" stroke-width="5.4" stroke-linecap="round" stroke-linejoin="round"/>
<path d="M85.0,863.4 L90.6,869.5" fill="none" stroke="#979797" stroke-width="3.2" stroke-linecap="round" stroke-linejoin="round"/>
<ellipse cx="97.0" cy="880.0" rx="18.2" ry="18.2" fill="url(#sgP)"/>
<path d="M112.6,896.2 L105.4,894.4 L97.9,885.6 L92.6,873.6 L91.2,863.4 L94.0,859.3" fill="none" stroke="#5a5a5a" stroke-width="5.4" stroke-linecap="round" stroke-linejoin="round"/>
<path d="M112.6,896.2 L105.4,894.4 L97.9,885.6 L92.6,873.6 L91.2,863.4 L94.0,859.3" fill="none" stroke="#979797" stroke-width="3.2" stroke-linecap="round" stroke-linejoin="round"/>
<path d="M100.3,900.3 L92.7,896.1 L85.6,885.9 L81.4,873.9 L81.3,865.2 L85.0,863.4" fill="none" stroke="#5a5a5a" stroke-width="5.4" stroke-linecap="round" stroke-linejoin="round"/>
<path d="M100.3,900.3 L92.7,896.1 L85.6,885.9 L81.4,873.9 L81.3,865.2 L85.0,863.4" fill="none" stroke="#979797" stroke-width="3.2" stroke-linecap="round" stroke-linejoin="round"/>
<path d="M135.1,833.7 L138.4,840.9 L138.5,855.9 L134.7,872.4 L128.0,883.7 L120.5,885.2" fill="none" stroke="#5a5a5a" stroke-width="5.4" stroke-linecap="round" stroke-linejoin="round"/>
<path d="M135.1,833.7 L138.4,840.9 L138.5,855.9 L134.7,872.4 L128.0,883.7 L120.5,885.2" fill="none" stroke="#979797" stroke-width="3.2" stroke-linecap="round" stroke-linejoin="round"/>
<path d="M122.2,833.6 L124.6,843.7" fill="none" stroke="#5a5a5a" stroke-width="5.4" stroke-linecap="round" stroke-linejoin="round"/>
<path d="M122.2,833.6 L124.6,843.7" fill="none" stroke="#979797" stroke-width="3.2" stroke-linecap="round" stroke-linejoin="round"/>
<ellipse cx="127.5" cy="859.6" rx="23.2" ry="25.7" fill="url(#sgP)"/>
<path d="M136.9,887.1 L130.3,881.1 L126.7,866.8 L127.0,849.8 L130.5,837.1 L135.1,833.7" fill="none" stroke="#5a5a5a" stroke-width="5.4" stroke-linecap="round" stroke-linejoin="round"/>
<path d="M136.9,887.1 L130.3,881.1 L126.7,866.8 L127.0,849.8 L130.5,837.1 L135.1,833.7" fill="none" stroke="#979797" stroke-width="3.2" stroke-linecap="round" stroke-linejoin="round"/>
<path d="M120.5,885.2 L114.6,876.2 L112.2,860.4 L113.6,844.0 L117.7,833.7 L122.2,833.6" fill="none" stroke="#5a5a5a" stroke-width="5.4" stroke-linecap="round" stroke-linejoin="round"/>
<path d="M120.5,885.2 L114.6,876.2 L112.2,860.4 L113.6,844.0 L117.7,833.7 L122.2,833.6" fill="none" stroke="#979797" stroke-width="3.2" stroke-linecap="round" stroke-linejoin="round"/>
<path d="M47.1,881.0 L57.1,875.6 L73.6,877.6 L89.7,886.9 L98.6,900.3 L96.5,912.9" fill="none" stroke="#5a5a5a" stroke-width="5.4" stroke-linecap="round" stroke-linejoin="round"/>
<path d="M47.1,881.0 L57.1,875.6 L73.6,877.6 L89.7,886.9 L98.6,900.3 L96.5,912.9" fill="none" stroke="#979797" stroke-width="3.2" stroke-linecap="round" stroke-linejoin="round"/>
<path d="M43.8,893.3 L56.4,890.0" fill="none" stroke="#5a5a5a" stroke-width="5.4" stroke-linecap="round" stroke-linejoin="round"/>
<path d="M43.8,893.3 L56.4,890.0" fill="none" stroke="#979797" stroke-width="3.2" stroke-linecap="round" stroke-linejoin="round"/>
<ellipse cx="72.0" cy="897.0" rx="27.8" ry="24.6" transform="rotate(15.0 72.0 897.0)" fill="url(#sgP)"/>
<path d="M103.7,894.9 L94.0,904.2 L77.0,906.4 L59.3,901.1 L47.8,891.1 L47.1,881.0" fill="none" stroke="#5a5a5a" stroke-width="5.4" stroke-linecap="round" stroke-linejoin="round"/>
<path d="M103.7,894.9 L94.0,904.2 L77.0,906.4 L59.3,901.1 L47.8,891.1 L47.1,881.0" fill="none" stroke="#979797" stroke-width="3.2" stroke-linecap="round" stroke-linejoin="round"/>
<path d="M96.5,912.9 L84.0,920.3 L66.0,920.1 L49.5,913.0 L41.1,902.4 L43.8,893.3" fill="none" stroke="#5a5a5a" stroke-width="5.4" stroke-linecap="round" stroke-linejoin="round"/>
<path d="M96.5,912.9 L84.0,920.3 L66.0,920.1 L49.5,913.0 L41.1,902.4 L43.8,893.3" fill="none" stroke="#979797" stroke-width="3.2" stroke-linecap="round" stroke-linejoin="round"/>
<path d="M115.1,921.2 L118.3,929.0 L115.9,942.5 L108.4,956.0 L98.3,963.8 L89.2,962.6" fill="none" stroke="#5a5a5a" stroke-width="5.4" stroke-linecap="round" stroke-linejoin="round"/>
<path d="M115.1,921.2 L118.3,929.0 L115.9,942.5 L108.4,956.0 L98.3,963.8 L89.2,962.6" fill="none" stroke="#979797" stroke-width="3.2" stroke-linecap="round" stroke-linejoin="round"/>
<path d="M104.4,918.3 L106.0,928.3" fill="none" stroke="#5a5a5a" stroke-width="5.4" stroke-linecap="round" stroke-linejoin="round"/>
<path d="M104.4,918.3 L106.0,928.3" fill="none" stroke="#979797" stroke-width="3.2" stroke-linecap="round" stroke-linejoin="round"/>
<ellipse cx="102.0" cy="942.0" rx="21.4" ry="21.4" fill="url(#sgP)"/>
<path d="M103.8,968.4 L97.3,960.8 L96.4,946.9 L100.7,932.2 L108.1,922.3 L115.1,921.2" fill="none" stroke="#5a5a5a" stroke-width="5.4" stroke-linecap="round" stroke-linejoin="round"/>
<path d="M103.8,968.4 L97.3,960.8 L96.4,946.9 L100.7,932.2 L108.1,922.3 L115.1,921.2" fill="none" stroke="#979797" stroke-width="3.2" stroke-linecap="round" stroke-linejoin="round"/>
<path d="M89.2,962.6 L84.2,952.6 L85.0,937.8 L90.6,924.0 L98.3,916.5 L104.4,918.3" fill="none" stroke="#5a5a5a" stroke-width="5.4" stroke-linecap="round" stroke-linejoin="round"/>
<path d="M89.2,962.6 L84.2,952.6 L85.0,937.8 L90.6,924.0 L98.3,916.5 L104.4,918.3" fill="none" stroke="#979797" stroke-width="3.2" stroke-linecap="round" stroke-linejoin="round"/>
<path d="M148.4,907.1 L147.6,915.6 L139.7,929.4 L127.4,942.6 L115.1,949.5 L107.4,946.9" fill="none" stroke="#5a5a5a" stroke-width="5.4" stroke-linecap="round" stroke-linejoin="round"/>
<path d="M148.4,907.1 L147.6,915.6 L139.7,929.4 L127.4,942.6 L115.1,949.5 L107.4,946.9" fill="none" stroke="#979797" stroke-width="3.2" stroke-linecap="round" stroke-linejoin="round"/>
<path d="M136.4,900.1 L133.4,910.7" fill="none" stroke="#5a5a5a" stroke-width="5.4" stroke-linecap="round" stroke-linejoin="round"/>
<path d="M136.4,900.1 L133.4,910.7" fill="none" stroke="#979797" stroke-width="3.2" stroke-linecap="round" stroke-linejoin="round"/>
<ellipse cx="127.5" cy="927.0" rx="24.6" ry="26.8" fill="url(#sgP)"/>
<path d="M121.5,957.5 L118.6,948.4 L123.0,933.2 L132.3,917.7 L142.3,907.8 L148.4,907.1" fill="none" stroke="#5a5a5a" stroke-width="5.4" stroke-linecap="round" stroke-linejoin="round"/>
<path d="M121.5,957.5 L118.6,948.4 L123.0,933.2 L132.3,917.7 L142.3,907.8 L148.4,907.1" fill="none" stroke="#979797" stroke-width="3.2" stroke-linecap="round" stroke-linejoin="round"/>
<path d="M107.4,946.9 L106.7,935.5 L113.0,919.5 L123.0,905.1 L132.2,897.8 L136.4,900.1" fill="none" stroke="#5a5a5a" stroke-width="5.4" stroke-linecap="round" stroke-linejoin="round"/>
<path d="M107.4,946.9 L106.7,935.5 L113.0,919.5 L123.0,905.1 L132.2,897.8 L136.4,900.1" fill="none" stroke="#979797" stroke-width="3.2" stroke-linecap="round" stroke-linejoin="round"/>
<path d="M182.4,836.7 L193.2,842.7 L198.2,855.6 L195.0,870.0 L184.4,880.3 L170.0,882.1" fill="none" stroke="#5a5a5a" stroke-width="5.4" stroke-linecap="round" stroke-linejoin="round"/>
<path d="M182.4,836.7 L193.2,842.7 L198.2,855.6 L195.0,870.0 L184.4,880.3 L170.0,882.1" fill="none" stroke="#979797" stroke-width="3.2" stroke-linecap="round" stroke-linejoin="round"/>
<path d="M173.7,837.6 L183.2,846.1" fill="none" stroke="#5a5a5a" stroke-width="5.4" stroke-linecap="round" stroke-linejoin="round"/>
<path d="M173.7,837.6 L183.2,846.1" fill="none" stroke="#979797" stroke-width="3.2" stroke-linecap="round" stroke-linejoin="round"/>
<ellipse cx="176.6" cy="859.6" rx="20.3" ry="20.3" fill="url(#sgP)"/>
<path d="M186.8,882.6 L173.0,877.9 L164.3,865.8 L163.7,851.2 L170.9,840.0 L182.4,836.7" fill="none" stroke="#5a5a5a" stroke-width="5.4" stroke-linecap="round" stroke-linejoin="round"/>
<path d="M186.8,882.6 L173.0,877.9 L164.3,865.8 L163.7,851.2 L170.9,840.0 L182.4,836.7" fill="none" stroke="#979797" stroke-width="3.2" stroke-linecap="round" stroke-linejoin="round"/>
<path d="M170.0,882.1 L157.3,874.9 L150.9,861.4 L152.8,847.2 L161.8,838.0 L173.7,837.6" fill="none" stroke="#5a5a5a" stroke-width="5.4" stroke-linecap="round" stroke-linejoin="round"/>
<path d="M170.0,882.1 L157.3,874.9 L150.9,861.4 L152.8,847.2 L161.8,838.0 L173.7,837.6" fill="none" stroke="#979797" stroke-width="3.2" stroke-linecap="round" stroke-linejoin="round"/>
<path d="M239.4,898.0 L243.5,900.0 L248.4,906.5 L251.8,915.1 L252.0,922.4 L248.7,925.7" fill="none" stroke="#5a5a5a" stroke-width="5.4" stroke-linecap="round" stroke-linejoin="round"/>
<path d="M239.4,898.0 L243.5,900.0 L248.4,906.5 L251.8,915.1 L252.0,922.4 L248.7,925.7" fill="none" stroke="#979797" stroke-width="3.2" stroke-linecap="round" stroke-linejoin="round"/>
<path d="M233.7,901.9 L238.2,905.5" fill="none" stroke="#5a5a5a" stroke-width="5.4" stroke-linecap="round" stroke-linejoin="round"/>
<path d="M233.7,901.9 L238.2,905.5" fill="none" stroke="#979797" stroke-width="3.2" stroke-linecap="round" stroke-linejoin="round"/>
<ellipse cx="244.0" cy="912.0" rx="12.8" ry="12.8" fill="url(#sgP)"/>
<path d="M256.8,921.4 L251.6,921.0 L245.3,915.8 L240.2,908.1 L238.0,901.2 L239.4,898.0" fill="none" stroke="#5a5a5a" stroke-width="5.4" stroke-linecap="round" stroke-linejoin="round"/>
<path d="M256.8,921.4 L251.6,921.0 L245.3,915.8 L240.2,908.1 L238.0,901.2 L239.4,898.0" fill="none" stroke="#979797" stroke-width="3.2" stroke-linecap="round" stroke-linejoin="round"/>
<path d="M248.7,925.7 L243.0,923.7 L236.8,917.5 L232.4,909.7 L231.3,903.6 L233.7,901.9" fill="none" stroke="#5a5a5a" stroke-width="5.4" stroke-linecap="round" stroke-linejoin="round"/>
<path d="M248.7,925.7 L243.0,923.7 L236.8,917.5 L232.4,909.7 L231.3,903.6 L233.7,901.9" fill="none" stroke="#979797" stroke-width="3.2" stroke-linecap="round" stroke-linejoin="round"/>
<path d="M232.0,862.3 L237.2,866.1 L242.4,876.4 L245.1,889.3 L243.6,899.5 L238.3,903.3" fill="none" stroke="#5a5a5a" stroke-width="5.4" stroke-linecap="round" stroke-linejoin="round"/>
<path d="M232.0,862.3 L237.2,866.1 L242.4,876.4 L245.1,889.3 L243.6,899.5 L238.3,903.3" fill="none" stroke="#979797" stroke-width="3.2" stroke-linecap="round" stroke-linejoin="round"/>
<path d="M223.0,866.4 L228.6,872.5" fill="none" stroke="#5a5a5a" stroke-width="5.4" stroke-linecap="round" stroke-linejoin="round"/>
<path d="M223.0,866.4 L228.6,872.5" fill="none" stroke="#979797" stroke-width="3.2" stroke-linecap="round" stroke-linejoin="round"/>
<ellipse cx="235.0" cy="883.0" rx="18.2" ry="18.2" fill="url(#sgP)"/>
<path d="M250.6,899.2 L243.4,897.4 L235.9,888.6 L230.6,876.6 L229.2,866.4 L232.0,862.3" fill="none" stroke="#5a5a5a" stroke-width="5.4" stroke-linecap="round" stroke-linejoin="round"/>
<path d="M250.6,899.2 L243.4,897.4 L235.9,888.6 L230.6,876.6 L229.2,866.4 L232.0,862.3" fill="none" stroke="#979797" stroke-width="3.2" stroke-linecap="round" stroke-linejoin="round"/>
<path d="M238.3,903.3 L230.7,899.1 L223.6,888.9 L219.4,876.9 L219.3,868.2 L223.0,866.4" fill="none" stroke="#5a5a5a" stroke-width="5.4" stroke-linecap="round" stroke-linejoin="round"/>
<path d="M238.3,903.3 L230.7,899.1 L223.6,888.9 L219.4,876.9 L219.3,868.2 L223.0,866.4" fill="none" stroke="#979797" stroke-width="3.2" stroke-linecap="round" stroke-linejoin="round"/>
<path d="M177.8,855.9 L186.8,850.7 L202.6,851.7 L218.7,859.1 L228.5,870.5 L227.8,881.9" fill="none" stroke="#5a5a5a" stroke-width="5.4" stroke-linecap="round" stroke-linejoin="round"/>
<path d="M177.8,855.9 L186.8,850.7 L202.6,851.7 L218.7,859.1 L228.5,870.5 L227.8,881.9" fill="none" stroke="#979797" stroke-width="3.2" stroke-linecap="round" stroke-linejoin="round"/>
<path d="M175.7,868.2 L187.2,864.7" fill="none" stroke="#5a5a5a" stroke-width="5.4" stroke-linecap="round" stroke-linejoin="round"/>
<path d="M175.7,868.2 L187.2,864.7" fill="none" stroke="#979797" stroke-width="3.2" stroke-linecap="round" stroke-linejoin="round"/>
<ellipse cx="203.0" cy="869.0" rx="28.9" ry="23.5" transform="rotate(15.0 203.0 869.0)" fill="url(#sgP)"/>
<path d="M233.0,864.3 L224.8,873.3 L208.9,876.3 L191.5,872.7 L179.6,864.6 L177.8,855.9" fill="none" stroke="#5a5a5a" stroke-width="5.4" stroke-linecap="round" stroke-linejoin="round"/>
<path d="M233.0,864.3 L224.8,873.3 L208.9,876.3 L191.5,872.7 L179.6,864.6 L177.8,855.9" fill="none" stroke="#979797" stroke-width="3.2" stroke-linecap="round" stroke-linejoin="round"/>
<path d="M227.8,881.9 L216.7,889.3 L199.6,890.2 L183.2,885.0 L174.0,876.3 L175.7,868.2" fill="none" stroke="#5a5a5a" stroke-width="5.4" stroke-linecap="round" stroke-linejoin="round"/>
<path d="M227.8,881.9 L216.7,889.3 L199.6,890.2 L183.2,885.0 L174.0,876.3 L175.7,868.2" fill="none" stroke="#979797" stroke-width="3.2" stroke-linecap="round" stroke-linejoin="round"/>
<path d="M185.8,900.8 L191.6,907.1 L193.3,919.4 L189.7,932.9 L181.8,941.9 L172.2,942.8" fill="none" stroke="#5a5a5a" stroke-width="5.4" stroke-linecap="round" stroke-linejoin="round"/>
<path d="M185.8,900.8 L191.6,907.1 L193.3,919.4 L189.7,932.9 L181.8,941.9 L172.2,942.8" fill="none" stroke="#979797" stroke-width="3.2" stroke-linecap="round" stroke-linejoin="round"/>
<path d="M176.2,900.8 L181.0,909.3" fill="none" stroke="#5a5a5a" stroke-width="5.4" stroke-linecap="round" stroke-linejoin="round"/>
<path d="M176.2,900.8 L181.0,909.3" fill="none" stroke="#979797" stroke-width="3.2" stroke-linecap="round" stroke-linejoin="round"/>
<ellipse cx="179.0" cy="922.0" rx="19.3" ry="19.3" fill="url(#sgP)"/>
<path d="M186.7,944.5 L178.0,939.3 L173.2,927.4 L173.6,913.6 L178.6,903.3 L185.8,900.8" fill="none" stroke="#5a5a5a" stroke-width="5.4" stroke-linecap="round" stroke-linejoin="round"/>
<path d="M186.7,944.5 L178.0,939.3 L173.2,927.4 L173.6,913.6 L178.6,903.3 L185.8,900.8" fill="none" stroke="#979797" stroke-width="3.2" stroke-linecap="round" stroke-linejoin="round"/>
<path d="M172.2,942.8 L164.4,935.2 L161.1,922.1 L163.1,908.8 L169.1,900.6 L176.2,900.8" fill="none" stroke="#5a5a5a" stroke-width="5.4" stroke-linecap="round" stroke-linejoin="round"/>
<path d="M172.2,942.8 L164.4,935.2 L161.1,922.1 L163.1,908.8 L169.1,900.6 L176.2,900.8" fill="none" stroke="#979797" stroke-width="3.2" stroke-linecap="round" stroke-linejoin="round"/>
<path d="M252.5,905.3 L259.3,892.4 L273.8,886.3 L290.2,890.0 L301.8,902.7 L303.9,919.7" fill="none" stroke="#5a5a5a" stroke-width="5.4" stroke-linecap="round" stroke-linejoin="round"/>
<path d="M252.5,905.3 L259.3,892.4 L273.8,886.3 L290.2,890.0 L301.8,902.7 L303.9,919.7" fill="none" stroke="#979797" stroke-width="3.2" stroke-linecap="round" stroke-linejoin="round"/>
<path d="M253.5,914.9 L263.1,903.5" fill="none" stroke="#5a5a5a" stroke-width="5.4" stroke-linecap="round" stroke-linejoin="round"/>
<path d="M253.5,914.9 L263.1,903.5" fill="none" stroke="#979797" stroke-width="3.2" stroke-linecap="round" stroke-linejoin="round"/>
<ellipse cx="278.4" cy="912.0" rx="23.0" ry="23.0" fill="url(#sgP)"/>
<path d="M304.4,900.5 L299.1,916.8 L285.5,927.1 L268.9,927.8 L256.2,919.2 L252.5,905.3" fill="none" stroke="#5a5a5a" stroke-width="5.4" stroke-linecap="round" stroke-linejoin="round"/>
<path d="M304.4,900.5 L299.1,916.8 L285.5,927.1 L268.9,927.8 L256.2,919.2 L252.5,905.3" fill="none" stroke="#979797" stroke-width="3.2" stroke-linecap="round" stroke-linejoin="round"/>
<path d="M303.9,919.7 L295.7,934.8 L280.4,942.4 L264.4,940.0 L254.0,929.2 L253.5,914.9" fill="none" stroke="#5a5a5a" stroke-width="5.4" stroke-linecap="round" stroke-linejoin="round"/>
<path d="M303.9,919.7 L295.7,934.8 L280.4,942.4 L264.4,940.0 L254.0,929.2 L253.5,914.9" fill="none" stroke="#979797" stroke-width="3.2" stroke-linecap="round" stroke-linejoin="round"/>
<path d="M205.2,958.8 L212.3,955.0 L225.9,955.4 L240.5,960.4 L250.0,968.4 L250.5,976.8" fill="none" stroke="#5a5a5a" stroke-width="5.4" stroke-linecap="round" stroke-linejoin="round"/>
<path d="M205.2,958.8 L212.3,955.0 L225.9,955.4 L240.5,960.4 L250.0,968.4 L250.5,976.8" fill="none" stroke="#979797" stroke-width="3.2" stroke-linecap="round" stroke-linejoin="round"/>
<path d="M204.1,970.1 L213.7,967.4" fill="none" stroke="#5a5a5a" stroke-width="5.4" stroke-linecap="round" stroke-linejoin="round"/>
<path d="M204.1,970.1 L213.7,967.4" fill="none" stroke="#979797" stroke-width="3.2" stroke-linecap="round" stroke-linejoin="round"/>
<ellipse cx="228.0" cy="968.0" rx="21.4" ry="21.4" fill="url(#sgP)"/>
<path d="M253.7,961.7 L247.5,968.6 L234.0,971.6 L218.7,969.9 L207.6,964.8 L205.2,958.8" fill="none" stroke="#5a5a5a" stroke-width="5.4" stroke-linecap="round" stroke-linejoin="round"/>
<path d="M253.7,961.7 L247.5,968.6 L234.0,971.6 L218.7,969.9 L207.6,964.8 L205.2,958.8" fill="none" stroke="#979797" stroke-width="3.2" stroke-linecap="round" stroke-linejoin="round"/>
<path d="M250.5,976.8 L241.7,982.8 L227.1,984.3 L212.4,981.3 L203.6,975.7 L204.1,970.1" fill="none" stroke="#5a5a5a" stroke-width="5.4" stroke-linecap="round" stroke-linejoin="round"/>
<path d="M250.5,976.8 L241.7,982.8 L227.1,984.3 L212.4,981.3 L203.6,975.7 L204.1,970.1" fill="none" stroke="#979797" stroke-width="3.2" stroke-linecap="round" stroke-linejoin="round"/>
<path d="M192.7,923.5 L201.8,918.9 L218.2,920.3 L235.1,927.9 L245.4,939.2 L244.9,950.2" fill="none" stroke="#5a5a5a" stroke-width="5.4" stroke-linecap="round" stroke-linejoin="round"/>
<path d="M192.7,923.5 L201.8,918.9 L218.2,920.3 L235.1,927.9 L245.4,939.2 L244.9,950.2" fill="none" stroke="#979797" stroke-width="3.2" stroke-linecap="round" stroke-linejoin="round"/>
<path d="M190.4,936.6 L202.2,933.6" fill="none" stroke="#5a5a5a" stroke-width="5.4" stroke-linecap="round" stroke-linejoin="round"/>
<path d="M190.4,936.6 L202.2,933.6" fill="none" stroke="#979797" stroke-width="3.2" stroke-linecap="round" stroke-linejoin="round"/>
<ellipse cx="219.0" cy="937.0" rx="28.9" ry="25.7" transform="rotate(20.0 219.0 937.0)" fill="url(#sgP)"/>
<path d="M250.4,932.1 L242.0,940.6 L225.5,943.2 L207.4,939.6 L194.8,931.7 L192.7,923.5" fill="none" stroke="#5a5a5a" stroke-width="5.4" stroke-linecap="round" stroke-linejoin="round"/>
<path d="M250.4,932.1 L242.0,940.6 L225.5,943.2 L207.4,939.6 L194.8,931.7 L192.7,923.5" fill="none" stroke="#979797" stroke-width="3.2" stroke-linecap="round" stroke-linejoin="round"/>
<path d="M244.9,950.2 L233.6,957.1 L215.8,957.8 L198.6,952.5 L188.9,944.1 L190.4,936.6" fill="none" stroke="#5a5a5a" stroke-width="5.4" stroke-linecap="round" stroke-linejoin="round"/>
<path d="M244.9,950.2 L233.6,957.1 L215.8,957.8 L198.6,952.5 L188.9,944.1 L190.4,936.6" fill="none" stroke="#979797" stroke-width="3.2" stroke-linecap="round" stroke-linejoin="round"/>
<path d="M255,930 L275,940 L300,938" fill="none" stroke="#5a5a5a" stroke-width="5.4" stroke-linecap="round" stroke-linejoin="round"/>
<path d="M255,930 L275,940 L300,938" fill="none" stroke="#979797" stroke-width="3.2" stroke-linecap="round" stroke-linejoin="round"/>
<path d="M476.3,861.6 L480.3,865.7 L483.3,875.4 L483.6,887.0 L480.8,895.7 L475.5,898.1" fill="none" stroke="#5a5a5a" stroke-width="5.4" stroke-linecap="round" stroke-linejoin="round"/>
<path d="M476.3,861.6 L480.3,865.7 L483.3,875.4 L483.6,887.0 L480.8,895.7 L475.5,898.1" fill="none" stroke="#979797" stroke-width="3.2" stroke-linecap="round" stroke-linejoin="round"/>
<path d="M467.9,863.8 L471.8,869.9" fill="none" stroke="#5a5a5a" stroke-width="5.4" stroke-linecap="round" stroke-linejoin="round"/>
<path d="M467.9,863.8 L471.8,869.9" fill="none" stroke="#979797" stroke-width="3.2" stroke-linecap="round" stroke-linejoin="round"/>
<ellipse cx="475.8" cy="880.0" rx="16.1" ry="16.1" fill="url(#sgR)"/>
<path d="M486.9,896.5 L480.9,893.8 L475.7,885.0 L472.9,873.8 L473.3,864.7 L476.3,861.6" fill="none" stroke="#5a5a5a" stroke-width="5.4" stroke-linecap="round" stroke-linejoin="round"/>
<path d="M486.9,896.5 L480.9,893.8 L475.7,885.0 L472.9,873.8 L473.3,864.7 L476.3,861.6" fill="none" stroke="#979797" stroke-width="3.2" stroke-linecap="round" stroke-linejoin="round"/>
<path d="M475.5,898.1 L469.6,893.3 L465.0,883.4 L463.1,872.3 L464.4,864.7 L467.9,863.8" fill="none" stroke="#5a5a5a" stroke-width="5.4" stroke-linecap="round" stroke-linejoin="round"/>
<path d="M475.5,898.1 L469.6,893.3 L465.0,883.4 L463.1,872.3 L464.4,864.7 L467.9,863.8" fill="none" stroke="#979797" stroke-width="3.2" stroke-linecap="round" stroke-linejoin="round"/>
<path d="M397.3,838.6 L407.1,834.6 L424.0,837.6 L440.8,847.0 L450.5,859.7 L449.0,871.1" fill="none" stroke="#5a5a5a" stroke-width="5.4" stroke-linecap="round" stroke-linejoin="round"/>
<path d="M397.3,838.6 L407.1,834.6 L424.0,837.6 L440.8,847.0 L450.5,859.7 L449.0,871.1" fill="none" stroke="#979797" stroke-width="3.2" stroke-linecap="round" stroke-linejoin="round"/>
<path d="M393.6,852.0 L406.2,850.0" fill="none" stroke="#5a5a5a" stroke-width="5.4" stroke-linecap="round" stroke-linejoin="round"/>
<path d="M393.6,852.0 L406.2,850.0" fill="none" stroke="#979797" stroke-width="3.2" stroke-linecap="round" stroke-linejoin="round"/>
<ellipse cx="423.3" cy="855.0" rx="26.8" ry="26.8" fill="url(#sgR)"/>
<path d="M456.3,852.8 L446.8,860.8 L429.5,862.0 L411.0,856.6 L398.7,847.3 L397.3,838.6" fill="none" stroke="#5a5a5a" stroke-width="5.4" stroke-linecap="round" stroke-linejoin="round"/>
<path d="M456.3,852.8 L446.8,860.8 L429.5,862.0 L411.0,856.6 L398.7,847.3 L397.3,838.6" fill="none" stroke="#979797" stroke-width="3.2" stroke-linecap="round" stroke-linejoin="round"/>
<path d="M449.0,871.1 L436.6,877.2 L418.1,876.3 L400.8,869.2 L391.4,859.6 L393.6,852.0" fill="none" stroke="#5a5a5a" stroke-width="5.4" stroke-linecap="round" stroke-linejoin="round"/>
<path d="M449.0,871.1 L436.6,877.2 L418.1,876.3 L400.8,869.2 L391.4,859.6 L393.6,852.0" fill="none" stroke="#979797" stroke-width="3.2" stroke-linecap="round" stroke-linejoin="round"/>
<path d="M366.8,904.9 L374.2,902.3 L390.2,901.7 L408.2,903.9 L420.9,908.8 L423.2,914.8" fill="none" stroke="#5a5a5a" stroke-width="5.4" stroke-linecap="round" stroke-linejoin="round"/>
<path d="M366.8,904.9 L374.2,902.3 L390.2,901.7 L408.2,903.9 L420.9,908.8 L423.2,914.8" fill="none" stroke="#979797" stroke-width="3.2" stroke-linecap="round" stroke-linejoin="round"/>
<path d="M367.9,919.3 L378.4,917.2" fill="none" stroke="#5a5a5a" stroke-width="5.4" stroke-linecap="round" stroke-linejoin="round"/>
<path d="M367.9,919.3 L378.4,917.2" fill="none" stroke="#979797" stroke-width="3.2" stroke-linecap="round" stroke-linejoin="round"/>
<ellipse cx="395.2" cy="910.3" rx="25.3" ry="25.3" fill="url(#sgR)"/>
<path d="M423.7,897.7 L418.0,903.6 L402.9,907.7 L384.8,909.1 L370.9,907.7 L366.8,904.9" fill="none" stroke="#5a5a5a" stroke-width="5.4" stroke-linecap="round" stroke-linejoin="round"/>
<path d="M423.7,897.7 L418.0,903.6 L402.9,907.7 L384.8,909.1 L370.9,907.7 L366.8,904.9" fill="none" stroke="#979797" stroke-width="3.2" stroke-linecap="round" stroke-linejoin="round"/>
<path d="M423.2,914.8 L414.2,920.4 L397.4,923.7 L379.8,924.2 L368.4,922.2 L367.9,919.3" fill="none" stroke="#5a5a5a" stroke-width="5.4" stroke-linecap="round" stroke-linejoin="round"/>
<path d="M423.2,914.8 L414.2,920.4 L397.4,923.7 L379.8,924.2 L368.4,922.2 L367.9,919.3" fill="none" stroke="#979797" stroke-width="3.2" stroke-linecap="round" stroke-linejoin="round"/>
<path d="M443.7,874.3 L450.8,878.8 L459.3,891.9 L465.4,908.5 L465.9,922.2 L460.2,927.8" fill="none" stroke="#5a5a5a" stroke-width="5.4" stroke-linecap="round" stroke-linejoin="round"/>
<path d="M443.7,874.3 L450.8,878.8 L459.3,891.9 L465.4,908.5 L465.9,922.2 L460.2,927.8" fill="none" stroke="#979797" stroke-width="3.2" stroke-linecap="round" stroke-linejoin="round"/>
<path d="M432.3,881.6 L440.2,889.0" fill="none" stroke="#5a5a5a" stroke-width="5.4" stroke-linecap="round" stroke-linejoin="round"/>
<path d="M432.3,881.6 L440.2,889.0" fill="none" stroke="#979797" stroke-width="3.2" stroke-linecap="round" stroke-linejoin="round"/>
<ellipse cx="451.8" cy="901.4" rx="24.1" ry="27.3" fill="url(#sgR)"/>
<path d="M475.7,920.2 L466.5,918.7 L455.2,908.1 L445.8,893.1 L441.6,880.0 L443.7,874.3" fill="none" stroke="#5a5a5a" stroke-width="5.4" stroke-linecap="round" stroke-linejoin="round"/>
<path d="M475.7,920.2 L466.5,918.7 L455.2,908.1 L445.8,893.1 L441.6,880.0 L443.7,874.3" fill="none" stroke="#979797" stroke-width="3.2" stroke-linecap="round" stroke-linejoin="round"/>
<path d="M460.2,927.8 L450.0,923.3 L438.8,910.8 L430.7,895.6 L428.4,884.3 L432.3,881.6" fill="none" stroke="#5a5a5a" stroke-width="5.4" stroke-linecap="round" stroke-linejoin="round"/>
<path d="M460.2,927.8 L450.0,923.3 L438.8,910.8 L430.7,895.6 L428.4,884.3 L432.3,881.6" fill="none" stroke="#979797" stroke-width="3.2" stroke-linecap="round" stroke-linejoin="round"/>
<path d="M446.6,927.0 L458.1,928.3 L469.2,939.0 L474.8,955.2 L472.1,970.4 L461.8,978.9" fill="none" stroke="#5a5a5a" stroke-width="5.4" stroke-linecap="round" stroke-linejoin="round"/>
<path d="M446.6,927.0 L458.1,928.3 L469.2,939.0 L474.8,955.2 L472.1,970.4 L461.8,978.9" fill="none" stroke="#979797" stroke-width="3.2" stroke-linecap="round" stroke-linejoin="round"/>
<path d="M437.4,933.4 L449.4,937.8" fill="none" stroke="#5a5a5a" stroke-width="5.4" stroke-linecap="round" stroke-linejoin="round"/>
<path d="M437.4,933.4 L449.4,937.8" fill="none" stroke="#979797" stroke-width="3.2" stroke-linecap="round" stroke-linejoin="round"/>
<ellipse cx="454.4" cy="953.0" rx="23.5" ry="23.5" fill="url(#sgR)"/>
<path d="M477.9,970.2 L464.2,971.8 L450.1,963.8 L440.9,949.6 L439.7,935.3 L446.6,927.0" fill="none" stroke="#5a5a5a" stroke-width="5.4" stroke-linecap="round" stroke-linejoin="round"/>
<path d="M477.9,970.2 L464.2,971.8 L450.1,963.8 L440.9,949.6 L439.7,935.3 L446.6,927.0" fill="none" stroke="#979797" stroke-width="3.2" stroke-linecap="round" stroke-linejoin="round"/>
<path d="M461.8,978.9 L447.4,977.5 L434.3,967.0 L427.3,952.1 L428.7,939.0 L437.4,933.4" fill="none" stroke="#5a5a5a" stroke-width="5.4" stroke-linecap="round" stroke-linejoin="round"/>
<path d="M461.8,978.9 L447.4,977.5 L434.3,967.0 L427.3,952.1 L428.7,939.0 L437.4,933.4" fill="none" stroke="#979797" stroke-width="3.2" stroke-linecap="round" stroke-linejoin="round"/>
<path d="M396,851 L420,890 L440,925 L460,964" fill="none" stroke="#5a5a5a" stroke-width="5.4" stroke-linecap="round" stroke-linejoin="round"/>
<path d="M396,851 L420,890 L440,925 L460,964" fill="none" stroke="#979797" stroke-width="3.2" stroke-linecap="round" stroke-linejoin="round"/>
<path d="M512.2,831.6 L519.7,835.6 L526.5,847.5 L529.4,862.6 L526.6,875.1 L518.9,880.0" fill="none" stroke="#5a5a5a" stroke-width="5.4" stroke-linecap="round" stroke-linejoin="round"/>
<path d="M512.2,831.6 L519.7,835.6 L526.5,847.5 L529.4,862.6 L526.6,875.1 L518.9,880.0" fill="none" stroke="#979797" stroke-width="3.2" stroke-linecap="round" stroke-linejoin="round"/>
<path d="M502.1,836.3 L509.8,843.0" fill="none" stroke="#5a5a5a" stroke-width="5.4" stroke-linecap="round" stroke-linejoin="round"/>
<path d="M502.1,836.3 L509.8,843.0" fill="none" stroke="#979797" stroke-width="3.2" stroke-linecap="round" stroke-linejoin="round"/>
<ellipse cx="515.5" cy="856.0" rx="21.4" ry="21.4" fill="url(#sgR)"/>
<path d="M533.8,875.1 L524.0,873.4 L514.4,863.4 L508.2,849.3 L507.5,837.0 L512.2,831.6" fill="none" stroke="#5a5a5a" stroke-width="5.4" stroke-linecap="round" stroke-linejoin="round"/>
<path d="M533.8,875.1 L524.0,873.4 L514.4,863.4 L508.2,849.3 L507.5,837.0 L512.2,831.6" fill="none" stroke="#979797" stroke-width="3.2" stroke-linecap="round" stroke-linejoin="round"/>
<path d="M518.9,880.0 L508.7,875.6 L499.8,863.7 L495.2,849.5 L496.3,838.9 L502.1,836.3" fill="none" stroke="#5a5a5a" stroke-width="5.4" stroke-linecap="round" stroke-linejoin="round"/>
<path d="M518.9,880.0 L508.7,875.6 L499.8,863.7 L495.2,849.5 L496.3,838.9 L502.1,836.3" fill="none" stroke="#979797" stroke-width="3.2" stroke-linecap="round" stroke-linejoin="round"/>
<path d="M508.7,857.1 L514.0,863.5 L518.1,878.6 L518.7,896.2 L515.0,909.5 L507.8,913.0" fill="none" stroke="#5a5a5a" stroke-width="5.4" stroke-linecap="round" stroke-linejoin="round"/>
<path d="M508.7,857.1 L514.0,863.5 L518.1,878.6 L518.7,896.2 L515.0,909.5 L507.8,913.0" fill="none" stroke="#979797" stroke-width="3.2" stroke-linecap="round" stroke-linejoin="round"/>
<path d="M495.6,860.5 L500.8,870.0" fill="none" stroke="#5a5a5a" stroke-width="5.4" stroke-linecap="round" stroke-linejoin="round"/>
<path d="M495.6,860.5 L500.8,870.0" fill="none" stroke="#979797" stroke-width="3.2" stroke-linecap="round" stroke-linejoin="round"/>
<ellipse cx="508.0" cy="885.3" rx="24.6" ry="24.6" fill="url(#sgR)"/>
<path d="M524.9,910.6 L516.7,906.3 L509.2,892.8 L504.9,875.6 L504.9,861.8 L508.7,857.1" fill="none" stroke="#5a5a5a" stroke-width="5.4" stroke-linecap="round" stroke-linejoin="round"/>
<path d="M524.9,910.6 L516.7,906.3 L509.2,892.8 L504.9,875.6 L504.9,861.8 L508.7,857.1" fill="none" stroke="#979797" stroke-width="3.2" stroke-linecap="round" stroke-linejoin="round"/>
<path d="M507.8,913.0 L499.5,905.6 L492.8,890.2 L489.7,873.3 L491.1,861.8 L495.6,860.5" fill="none" stroke="#5a5a5a" stroke-width="5.4" stroke-linecap="round" stroke-linejoin="round"/>
<path d="M507.8,913.0 L499.5,905.6 L492.8,890.2 L489.7,873.3 L491.1,861.8 L495.6,860.5" fill="none" stroke="#979797" stroke-width="3.2" stroke-linecap="round" stroke-linejoin="round"/>
<path d="M570.3,883.0 L567.5,890.1 L557.3,898.2 L543.7,903.5 L531.8,903.4 L526.3,897.6" fill="none" stroke="#5a5a5a" stroke-width="5.4" stroke-linecap="round" stroke-linejoin="round"/>
<path d="M570.3,883.0 L567.5,890.1 L557.3,898.2 L543.7,903.5 L531.8,903.4 L526.3,897.6" fill="none" stroke="#979797" stroke-width="3.2" stroke-linecap="round" stroke-linejoin="round"/>
<path d="M564.2,874.2 L558.9,882.0" fill="none" stroke="#5a5a5a" stroke-width="5.4" stroke-linecap="round" stroke-linejoin="round"/>
<path d="M564.2,874.2 L558.9,882.0" fill="none" stroke="#979797" stroke-width="3.2" stroke-linecap="round" stroke-linejoin="round"/>
<ellipse cx="548.1" cy="890.3" rx="20.3" ry="20.3" fill="url(#sgR)"/>
<path d="M533.3,910.6 L533.6,901.8 L541.5,891.4 L553.7,883.3 L564.9,880.2 L570.3,883.0" fill="none" stroke="#5a5a5a" stroke-width="5.4" stroke-linecap="round" stroke-linejoin="round"/>
<path d="M533.3,910.6 L533.6,901.8 L541.5,891.4 L553.7,883.3 L564.9,880.2 L570.3,883.0" fill="none" stroke="#979797" stroke-width="3.2" stroke-linecap="round" stroke-linejoin="round"/>
<path d="M526.3,897.6 L529.1,887.9 L538.8,877.9 L551.3,871.1 L561.2,869.8 L564.2,874.2" fill="none" stroke="#5a5a5a" stroke-width="5.4" stroke-linecap="round" stroke-linejoin="round"/>
<path d="M526.3,897.6 L529.1,887.9 L538.8,877.9 L551.3,871.1 L561.2,869.8 L564.2,874.2" fill="none" stroke="#979797" stroke-width="3.2" stroke-linecap="round" stroke-linejoin="round"/>
<path d="M558.1,899.1 L563.0,898.0 L570.8,900.8 L577.9,906.7 L581.5,913.5 L579.8,918.7" fill="none" stroke="#5a5a5a" stroke-width="5.4" stroke-linecap="round" stroke-linejoin="round"/>
<path d="M558.1,899.1 L563.0,898.0 L570.8,900.8 L577.9,906.7 L581.5,913.5 L579.8,918.7" fill="none" stroke="#979797" stroke-width="3.2" stroke-linecap="round" stroke-linejoin="round"/>
<path d="M555.2,905.1 L561.3,905.2" fill="none" stroke="#5a5a5a" stroke-width="5.4" stroke-linecap="round" stroke-linejoin="round"/>
<path d="M555.2,905.1 L561.3,905.2" fill="none" stroke="#979797" stroke-width="3.2" stroke-linecap="round" stroke-linejoin="round"/>
<ellipse cx="569.0" cy="909.0" rx="12.8" ry="12.8" fill="url(#sgR)"/>
<path d="M584.8,910.7 L579.6,913.7 L571.3,912.8 L563.0,908.7 L558.0,903.3 L558.1,899.1" fill="none" stroke="#5a5a5a" stroke-width="5.4" stroke-linecap="round" stroke-linejoin="round"/>
<path d="M584.8,910.7 L579.6,913.7 L571.3,912.8 L563.0,908.7 L558.0,903.3 L558.1,899.1" fill="none" stroke="#979797" stroke-width="3.2" stroke-linecap="round" stroke-linejoin="round"/>
<path d="M579.8,918.7 L573.4,920.6 L564.8,918.6 L557.2,913.9 L553.5,908.5 L555.2,905.1" fill="none" stroke="#5a5a5a" stroke-width="5.4" stroke-linecap="round" stroke-linejoin="round"/>
<path d="M579.8,918.7 L573.4,920.6 L564.8,918.6 L557.2,913.9 L553.5,908.5 L555.2,905.1" fill="none" stroke="#979797" stroke-width="3.2" stroke-linecap="round" stroke-linejoin="round"/>
<path d="M475,922 L505,920 L540,916 L565,918" fill="none" stroke="#5a5a5a" stroke-width="5.4" stroke-linecap="round" stroke-linejoin="round"/>
<path d="M475,922 L505,920 L540,916 L565,918" fill="none" stroke="#979797" stroke-width="3.2" stroke-linecap="round" stroke-linejoin="round"/>
<path d="M499.3,926.1 L505.7,930.7 L512.0,943.1 L515.1,958.6 L513.4,970.9 L506.9,975.4" fill="none" stroke="#5a5a5a" stroke-width="5.4" stroke-linecap="round" stroke-linejoin="round"/>
<path d="M499.3,926.1 L505.7,930.7 L512.0,943.1 L515.1,958.6 L513.4,970.9 L506.9,975.4" fill="none" stroke="#979797" stroke-width="3.2" stroke-linecap="round" stroke-linejoin="round"/>
<path d="M488.6,931.0 L495.2,938.3" fill="none" stroke="#5a5a5a" stroke-width="5.4" stroke-linecap="round" stroke-linejoin="round"/>
<path d="M488.6,931.0 L495.2,938.3" fill="none" stroke="#979797" stroke-width="3.2" stroke-linecap="round" stroke-linejoin="round"/>
<ellipse cx="503.0" cy="951.0" rx="21.9" ry="21.9" fill="url(#sgR)"/>
<path d="M521.8,970.5 L513.2,968.3 L504.1,957.8 L497.7,943.3 L496.1,931.0 L499.3,926.1" fill="none" stroke="#5a5a5a" stroke-width="5.4" stroke-linecap="round" stroke-linejoin="round"/>
<path d="M521.8,970.5 L513.2,968.3 L504.1,957.8 L497.7,943.3 L496.1,931.0 L499.3,926.1" fill="none" stroke="#979797" stroke-width="3.2" stroke-linecap="round" stroke-linejoin="round"/>
<path d="M506.9,975.4 L497.8,970.4 L489.2,958.1 L484.1,943.6 L484.1,933.1 L488.6,931.0" fill="none" stroke="#5a5a5a" stroke-width="5.4" stroke-linecap="round" stroke-linejoin="round"/>
<path d="M506.9,975.4 L497.8,970.4 L489.2,958.1 L484.1,943.6 L484.1,933.1 L488.6,931.0" fill="none" stroke="#979797" stroke-width="3.2" stroke-linecap="round" stroke-linejoin="round"/>
<path d="M536.9,921.8 L544.6,925.5 L553.8,937.7 L560.2,953.8 L560.6,967.6 L554.5,973.7" fill="none" stroke="#5a5a5a" stroke-width="5.4" stroke-linecap="round" stroke-linejoin="round"/>
<path d="M536.9,921.8 L544.6,925.5 L553.8,937.7 L560.2,953.8 L560.6,967.6 L554.5,973.7" fill="none" stroke="#979797" stroke-width="3.2" stroke-linecap="round" stroke-linejoin="round"/>
<path d="M526.2,929.1 L534.8,935.8" fill="none" stroke="#5a5a5a" stroke-width="5.4" stroke-linecap="round" stroke-linejoin="round"/>
<path d="M526.2,929.1 L534.8,935.8" fill="none" stroke="#979797" stroke-width="3.2" stroke-linecap="round" stroke-linejoin="round"/>
<ellipse cx="545.6" cy="948.0" rx="24.1" ry="24.1" fill="url(#sgR)"/>
<path d="M569.6,965.5 L559.9,964.8 L548.0,955.1 L538.4,940.7 L534.3,927.7 L536.9,921.8" fill="none" stroke="#5a5a5a" stroke-width="5.4" stroke-linecap="round" stroke-linejoin="round"/>
<path d="M569.6,965.5 L559.9,964.8 L548.0,955.1 L538.4,940.7 L534.3,927.7 L536.9,921.8" fill="none" stroke="#979797" stroke-width="3.2" stroke-linecap="round" stroke-linejoin="round"/>
<path d="M554.5,973.7 L543.7,970.0 L532.1,958.3 L523.8,943.6 L521.8,932.3 L526.2,929.1" fill="none" stroke="#5a5a5a" stroke-width="5.4" stroke-linecap="round" stroke-linejoin="round"/>
<path d="M554.5,973.7 L543.7,970.0 L532.1,958.3 L523.8,943.6 L521.8,932.3 L526.2,929.1" fill="none" stroke="#979797" stroke-width="3.2" stroke-linecap="round" stroke-linejoin="round"/>
<path d="M577.6,910.6 L586.2,910.0 L600.3,916.0 L613.8,926.8 L621.1,938.4 L618.8,946.8" fill="none" stroke="#5a5a5a" stroke-width="5.4" stroke-linecap="round" stroke-linejoin="round"/>
<path d="M577.6,910.6 L586.2,910.0 L600.3,916.0 L613.8,926.8 L621.1,938.4 L618.8,946.8" fill="none" stroke="#979797" stroke-width="3.2" stroke-linecap="round" stroke-linejoin="round"/>
<path d="M572.1,922.4 L582.8,923.8" fill="none" stroke="#5a5a5a" stroke-width="5.4" stroke-linecap="round" stroke-linejoin="round"/>
<path d="M572.1,922.4 L582.8,923.8" fill="none" stroke="#979797" stroke-width="3.2" stroke-linecap="round" stroke-linejoin="round"/>
<ellipse cx="598.3" cy="929.0" rx="24.1" ry="24.1" fill="url(#sgR)"/>
<path d="M627.9,932.2 L619.1,936.4 L604.0,933.9 L588.4,926.3 L578.4,917.1 L577.6,910.6" fill="none" stroke="#5a5a5a" stroke-width="5.4" stroke-linecap="round" stroke-linejoin="round"/>
<path d="M627.9,932.2 L619.1,936.4 L604.0,933.9 L588.4,926.3 L578.4,917.1 L577.6,910.6" fill="none" stroke="#979797" stroke-width="3.2" stroke-linecap="round" stroke-linejoin="round"/>
<path d="M618.8,946.8 L607.6,949.0 L591.7,944.7 L577.3,936.1 L569.8,927.3 L572.1,922.4" fill="none" stroke="#5a5a5a" stroke-width="5.4" stroke-linecap="round" stroke-linejoin="round"/>
<path d="M618.8,946.8 L607.6,949.0 L591.7,944.7 L577.3,936.1 L569.8,927.3 L572.1,922.4" fill="none" stroke="#979797" stroke-width="3.2" stroke-linecap="round" stroke-linejoin="round"/>
<path d="M741.0,932.2 L740.0,942.0 L730.4,956.8 L715.4,970.1 L700.7,976.1 L691.6,971.8" fill="none" stroke="#5a5a5a" stroke-width="5.4" stroke-linecap="round" stroke-linejoin="round"/>
<path d="M741.0,932.2 L740.0,942.0 L730.4,956.8 L715.4,970.1 L700.7,976.1 L691.6,971.8" fill="none" stroke="#979797" stroke-width="3.2" stroke-linecap="round" stroke-linejoin="round"/>
<path d="M728.8,923.5 L725.0,935.4" fill="none" stroke="#5a5a5a" stroke-width="5.4" stroke-linecap="round" stroke-linejoin="round"/>
<path d="M728.8,923.5 L725.0,935.4" fill="none" stroke="#979797" stroke-width="3.2" stroke-linecap="round" stroke-linejoin="round"/>
<ellipse cx="716.0" cy="952.0" rx="28.9" ry="26.2" transform="rotate(-20.0 716.0 952.0)" fill="url(#sgO)"/>
<path d="M706.4,985.0 L703.4,974.1 L709.2,957.5 L721.1,941.3 L733.5,931.7 L741.0,932.2" fill="none" stroke="#5a5a5a" stroke-width="5.4" stroke-linecap="round" stroke-linejoin="round"/>
<path d="M706.4,985.0 L703.4,974.1 L709.2,957.5 L721.1,941.3 L733.5,931.7 L741.0,932.2" fill="none" stroke="#979797" stroke-width="3.2" stroke-linecap="round" stroke-linejoin="round"/>
<path d="M691.6,971.8 L691.4,958.6 L699.5,941.4 L712.1,926.6 L723.6,919.9 L728.8,923.5" fill="none" stroke="#5a5a5a" stroke-width="5.4" stroke-linecap="round" stroke-linejoin="round"/>
<path d="M691.6,971.8 L691.4,958.6 L699.5,941.4 L712.1,926.6 L723.6,919.9 L728.8,923.5" fill="none" stroke="#979797" stroke-width="3.2" stroke-linecap="round" stroke-linejoin="round"/>
<path d="M751.5,876.6 L758.5,880.8 L767.3,893.2 L773.8,909.3 L774.8,922.7 L769.4,928.3" fill="none" stroke="#5a5a5a" stroke-width="5.4" stroke-linecap="round" stroke-linejoin="round"/>
<path d="M751.5,876.6 L758.5,880.8 L767.3,893.2 L773.8,909.3 L774.8,922.7 L769.4,928.3" fill="none" stroke="#979797" stroke-width="3.2" stroke-linecap="round" stroke-linejoin="round"/>
<path d="M740.6,884.1 L748.6,891.1" fill="none" stroke="#5a5a5a" stroke-width="5.4" stroke-linecap="round" stroke-linejoin="round"/>
<path d="M740.6,884.1 L748.6,891.1" fill="none" stroke="#979797" stroke-width="3.2" stroke-linecap="round" stroke-linejoin="round"/>
<ellipse cx="760.3" cy="902.8" rx="24.1" ry="24.1" fill="url(#sgO)"/>
<path d="M784.3,920.3 L775.3,919.2 L763.9,909.3 L754.2,894.9 L749.6,882.2 L751.5,876.6" fill="none" stroke="#5a5a5a" stroke-width="5.4" stroke-linecap="round" stroke-linejoin="round"/>
<path d="M784.3,920.3 L775.3,919.2 L763.9,909.3 L754.2,894.9 L749.6,882.2 L751.5,876.6" fill="none" stroke="#979797" stroke-width="3.2" stroke-linecap="round" stroke-linejoin="round"/>
<path d="M769.4,928.3 L759.3,924.3 L747.9,912.4 L739.5,897.9 L736.9,886.9 L740.6,884.1" fill="none" stroke="#5a5a5a" stroke-width="5.4" stroke-linecap="round" stroke-linejoin="round"/>
<path d="M769.4,928.3 L759.3,924.3 L747.9,912.4 L739.5,897.9 L736.9,886.9 L740.6,884.1" fill="none" stroke="#979797" stroke-width="3.2" stroke-linecap="round" stroke-linejoin="round"/>
<path d="M808.6,884.5 L813.5,890.4 L817.2,904.1 L817.8,920.3 L814.4,932.4 L807.9,935.6" fill="none" stroke="#5a5a5a" stroke-width="5.4" stroke-linecap="round" stroke-linejoin="round"/>
<path d="M808.6,884.5 L813.5,890.4 L817.2,904.1 L817.8,920.3 L814.4,932.4 L807.9,935.6" fill="none" stroke="#979797" stroke-width="3.2" stroke-linecap="round" stroke-linejoin="round"/>
<path d="M796.6,887.6 L801.4,896.3" fill="none" stroke="#5a5a5a" stroke-width="5.4" stroke-linecap="round" stroke-linejoin="round"/>
<path d="M796.6,887.6 L801.4,896.3" fill="none" stroke="#979797" stroke-width="3.2" stroke-linecap="round" stroke-linejoin="round"/>
<ellipse cx="808.0" cy="910.3" rx="22.5" ry="22.5" fill="url(#sgO)"/>
<path d="M823.5,933.4 L815.9,929.5 L809.1,917.1 L805.2,901.4 L805.2,888.8 L808.6,884.5" fill="none" stroke="#5a5a5a" stroke-width="5.4" stroke-linecap="round" stroke-linejoin="round"/>
<path d="M823.5,933.4 L815.9,929.5 L809.1,917.1 L805.2,901.4 L805.2,888.8 L808.6,884.5" fill="none" stroke="#979797" stroke-width="3.2" stroke-linecap="round" stroke-linejoin="round"/>
<path d="M807.9,935.6 L800.2,928.8 L794.1,914.8 L791.3,899.3 L792.5,888.8 L796.6,887.6" fill="none" stroke="#5a5a5a" stroke-width="5.4" stroke-linecap="round" stroke-linejoin="round"/>
<path d="M807.9,935.6 L800.2,928.8 L794.1,914.8 L791.3,899.3 L792.5,888.8 L796.6,887.6" fill="none" stroke="#979797" stroke-width="3.2" stroke-linecap="round" stroke-linejoin="round"/>
<path d="M755.7,972.9 L762.8,967.5 L777.2,966.3 L792.9,970.2 L803.5,978.4 L804.7,987.9" fill="none" stroke="#5a5a5a" stroke-width="5.4" stroke-linecap="round" stroke-linejoin="round"/>
<path d="M755.7,972.9 L762.8,967.5 L777.2,966.3 L792.9,970.2 L803.5,978.4 L804.7,987.9" fill="none" stroke="#979797" stroke-width="3.2" stroke-linecap="round" stroke-linejoin="round"/>
<path d="M755.7,984.5 L765.4,980.2" fill="none" stroke="#5a5a5a" stroke-width="5.4" stroke-linecap="round" stroke-linejoin="round"/>
<path d="M755.7,984.5 L765.4,980.2" fill="none" stroke="#979797" stroke-width="3.2" stroke-linecap="round" stroke-linejoin="round"/>
<ellipse cx="780.4" cy="980.5" rx="22.5" ry="22.5" fill="url(#sgO)"/>
<path d="M806.7,971.5 L800.8,980.1 L786.9,984.9 L770.8,984.5 L758.7,979.6 L755.7,972.9" fill="none" stroke="#5a5a5a" stroke-width="5.4" stroke-linecap="round" stroke-linejoin="round"/>
<path d="M806.7,971.5 L800.8,980.1 L786.9,984.9 L770.8,984.5 L758.7,979.6 L755.7,972.9" fill="none" stroke="#979797" stroke-width="3.2" stroke-linecap="round" stroke-linejoin="round"/>
<path d="M804.7,987.9 L796.0,995.6 L780.8,998.9 L765.2,997.0 L755.6,991.2 L755.7,984.5" fill="none" stroke="#5a5a5a" stroke-width="5.4" stroke-linecap="round" stroke-linejoin="round"/>
<path d="M804.7,987.9 L796.0,995.6 L780.8,998.9 L765.2,997.0 L755.6,991.2 L755.7,984.5" fill="none" stroke="#979797" stroke-width="3.2" stroke-linecap="round" stroke-linejoin="round"/>
<path d="M817.3,951.1 L810.5,955.8 L794.7,959.6 L776.3,960.4 L762.6,957.2 L759.0,950.6" fill="none" stroke="#5a5a5a" stroke-width="5.4" stroke-linecap="round" stroke-linejoin="round"/>
<path d="M817.3,951.1 L810.5,955.8 L794.7,959.6 L776.3,960.4 L762.6,957.2 L759.0,950.6" fill="none" stroke="#979797" stroke-width="3.2" stroke-linecap="round" stroke-linejoin="round"/>
<path d="M813.7,937.1 L803.7,941.8" fill="none" stroke="#5a5a5a" stroke-width="5.4" stroke-linecap="round" stroke-linejoin="round"/>
<path d="M813.7,937.1 L803.7,941.8" fill="none" stroke="#979797" stroke-width="3.2" stroke-linecap="round" stroke-linejoin="round"/>
<ellipse cx="787.9" cy="950.5" rx="25.7" ry="25.7" fill="url(#sgO)"/>
<path d="M761.6,968.2 L766.2,960.4 L780.4,953.1 L798.3,948.6 L812.6,948.0 L817.3,951.1" fill="none" stroke="#5a5a5a" stroke-width="5.4" stroke-linecap="round" stroke-linejoin="round"/>
<path d="M761.6,968.2 L766.2,960.4 L780.4,953.1 L798.3,948.6 L812.6,948.0 L817.3,951.1" fill="none" stroke="#979797" stroke-width="3.2" stroke-linecap="round" stroke-linejoin="round"/>
<path d="M759.0,950.6 L767.0,942.7 L783.0,936.0 L800.6,932.7 L812.5,933.3 L813.7,937.1" fill="none" stroke="#5a5a5a" stroke-width="5.4" stroke-linecap="round" stroke-linejoin="round"/>
<path d="M759.0,950.6 L767.0,942.7 L783.0,936.0 L800.6,932.7 L812.5,933.3 L813.7,937.1" fill="none" stroke="#979797" stroke-width="3.2" stroke-linecap="round" stroke-linejoin="round"/>
<path d="M750,940 L790,932 L830,925 L868,918" fill="none" stroke="#5a5a5a" stroke-width="5.4" stroke-linecap="round" stroke-linejoin="round"/>
<path d="M750,940 L790,932 L830,925 L868,918" fill="none" stroke="#979797" stroke-width="3.2" stroke-linecap="round" stroke-linejoin="round"/>
<path d="M868.9,883.1 L874.2,887.3 L877.9,897.6 L878.1,910.0 L874.2,919.4 L867.4,922.2" fill="none" stroke="#5a5a5a" stroke-width="5.4" stroke-linecap="round" stroke-linejoin="round"/>
<path d="M868.9,883.1 L874.2,887.3 L877.9,897.6 L878.1,910.0 L874.2,919.4 L867.4,922.2" fill="none" stroke="#979797" stroke-width="3.2" stroke-linecap="round" stroke-linejoin="round"/>
<path d="M860.3,885.4 L865.4,891.7" fill="none" stroke="#5a5a5a" stroke-width="5.4" stroke-linecap="round" stroke-linejoin="round"/>
<path d="M860.3,885.4 L865.4,891.7" fill="none" stroke="#979797" stroke-width="3.2" stroke-linecap="round" stroke-linejoin="round"/>
<ellipse cx="868.1" cy="902.8" rx="17.1" ry="17.1" fill="url(#sgO)"/>
<path d="M879.9,920.4 L872.4,917.7 L866.2,908.5 L863.3,896.5 L864.5,886.7 L868.9,883.1" fill="none" stroke="#5a5a5a" stroke-width="5.4" stroke-linecap="round" stroke-linejoin="round"/>
<path d="M879.9,920.4 L872.4,917.7 L866.2,908.5 L863.3,896.5 L864.5,886.7 L868.9,883.1" fill="none" stroke="#979797" stroke-width="3.2" stroke-linecap="round" stroke-linejoin="round"/>
<path d="M867.4,922.2 L860.0,917.3 L854.7,906.7 L853.0,894.9 L855.3,886.6 L860.3,885.4" fill="none" stroke="#5a5a5a" stroke-width="5.4" stroke-linecap="round" stroke-linejoin="round"/>
<path d="M867.4,922.2 L860.0,917.3 L854.7,906.7 L853.0,894.9 L855.3,886.6 L860.3,885.4" fill="none" stroke="#979797" stroke-width="3.2" stroke-linecap="round" stroke-linejoin="round"/>
<path d="M924.6,863.7 L929.4,866.0 L935.1,873.6 L939.1,883.6 L939.4,892.2 L935.5,896.0" fill="none" stroke="#5a5a5a" stroke-width="5.4" stroke-linecap="round" stroke-linejoin="round"/>
<path d="M924.6,863.7 L929.4,866.0 L935.1,873.6 L939.1,883.6 L939.4,892.2 L935.5,896.0" fill="none" stroke="#979797" stroke-width="3.2" stroke-linecap="round" stroke-linejoin="round"/>
<path d="M917.9,868.3 L923.3,872.4" fill="none" stroke="#5a5a5a" stroke-width="5.4" stroke-linecap="round" stroke-linejoin="round"/>
<path d="M917.9,868.3 L923.3,872.4" fill="none" stroke="#979797" stroke-width="3.2" stroke-linecap="round" stroke-linejoin="round"/>
<ellipse cx="930.0" cy="880.0" rx="15.0" ry="15.0" fill="url(#sgO)"/>
<path d="M945.0,890.9 L938.9,890.5 L931.5,884.4 L925.5,875.5 L923.0,867.4 L924.6,863.7" fill="none" stroke="#5a5a5a" stroke-width="5.4" stroke-linecap="round" stroke-linejoin="round"/>
<path d="M945.0,890.9 L938.9,890.5 L931.5,884.4 L925.5,875.5 L923.0,867.4 L924.6,863.7" fill="none" stroke="#979797" stroke-width="3.2" stroke-linecap="round" stroke-linejoin="round"/>
<path d="M935.5,896.0 L928.8,893.7 L921.6,886.4 L916.4,877.3 L915.2,870.2 L917.9,868.3" fill="none" stroke="#5a5a5a" stroke-width="5.4" stroke-linecap="round" stroke-linejoin="round"/>
<path d="M935.5,896.0 L928.8,893.7 L921.6,886.4 L916.4,877.3 L915.2,870.2 L917.9,868.3" fill="none" stroke="#979797" stroke-width="3.2" stroke-linecap="round" stroke-linejoin="round"/>
<path d="M906.8,870.8 L912.5,875.8 L917.6,888.4 L919.4,903.7 L916.6,915.6 L909.9,919.4" fill="none" stroke="#5a5a5a" stroke-width="5.4" stroke-linecap="round" stroke-linejoin="round"/>
<path d="M906.8,870.8 L912.5,875.8 L917.6,888.4 L919.4,903.7 L916.6,915.6 L909.9,919.4" fill="none" stroke="#979797" stroke-width="3.2" stroke-linecap="round" stroke-linejoin="round"/>
<path d="M895.9,874.6 L901.7,882.3" fill="none" stroke="#5a5a5a" stroke-width="5.4" stroke-linecap="round" stroke-linejoin="round"/>
<path d="M895.9,874.6 L901.7,882.3" fill="none" stroke="#979797" stroke-width="3.2" stroke-linecap="round" stroke-linejoin="round"/>
<ellipse cx="908.2" cy="895.3" rx="21.4" ry="21.4" fill="url(#sgO)"/>
<path d="M924.8,915.9 L916.6,913.0 L908.7,902.0 L903.7,887.4 L903.1,875.3 L906.8,870.8" fill="none" stroke="#5a5a5a" stroke-width="5.4" stroke-linecap="round" stroke-linejoin="round"/>
<path d="M924.8,915.9 L916.6,913.0 L908.7,902.0 L903.7,887.4 L903.1,875.3 L906.8,870.8" fill="none" stroke="#979797" stroke-width="3.2" stroke-linecap="round" stroke-linejoin="round"/>
<path d="M909.9,919.4 L901.5,913.7 L894.2,901.0 L890.5,886.5 L891.3,876.3 L895.9,874.6" fill="none" stroke="#5a5a5a" stroke-width="5.4" stroke-linecap="round" stroke-linejoin="round"/>
<path d="M909.9,919.4 L901.5,913.7 L894.2,901.0 L890.5,886.5 L891.3,876.3 L895.9,874.6" fill="none" stroke="#979797" stroke-width="3.2" stroke-linecap="round" stroke-linejoin="round"/>
<path d="M922.9,839.5 L930.6,836.7 L946.7,837.1 L964.6,841.1 L976.9,847.7 L978.6,854.9" fill="none" stroke="#5a5a5a" stroke-width="5.4" stroke-linecap="round" stroke-linejoin="round"/>
<path d="M922.9,839.5 L930.6,836.7 L946.7,837.1 L964.6,841.1 L976.9,847.7 L978.6,854.9" fill="none" stroke="#979797" stroke-width="3.2" stroke-linecap="round" stroke-linejoin="round"/>
<path d="M922.7,853.8 L933.5,851.9" fill="none" stroke="#5a5a5a" stroke-width="5.4" stroke-linecap="round" stroke-linejoin="round"/>
<path d="M922.7,853.8 L933.5,851.9" fill="none" stroke="#979797" stroke-width="3.2" stroke-linecap="round" stroke-linejoin="round"/>
<ellipse cx="950.9" cy="847.6" rx="25.5" ry="25.5" fill="url(#sgO)"/>
<path d="M980.7,837.4 L974.3,843.7 L958.8,847.0 L940.4,846.8 L926.6,843.6 L922.9,839.5" fill="none" stroke="#5a5a5a" stroke-width="5.4" stroke-linecap="round" stroke-linejoin="round"/>
<path d="M980.7,837.4 L974.3,843.7 L958.8,847.0 L940.4,846.8 L926.6,843.6 L922.9,839.5" fill="none" stroke="#979797" stroke-width="3.2" stroke-linecap="round" stroke-linejoin="round"/>
<path d="M978.6,854.9 L969.0,860.5 L951.8,862.7 L934.1,861.4 L922.9,857.7 L922.7,853.8" fill="none" stroke="#5a5a5a" stroke-width="5.4" stroke-linecap="round" stroke-linejoin="round"/>
<path d="M978.6,854.9 L969.0,860.5 L951.8,862.7 L934.1,861.4 L922.9,857.7 L922.7,853.8" fill="none" stroke="#979797" stroke-width="3.2" stroke-linecap="round" stroke-linejoin="round"/>
<path d="M954.4,882.1 L962.4,888.1 L966.9,901.9 L965.4,918.1 L958.1,930.1 L947.3,933.1" fill="none" stroke="#5a5a5a" stroke-width="5.4" stroke-linecap="round" stroke-linejoin="round"/>
<path d="M954.4,882.1 L962.4,888.1 L966.9,901.9 L965.4,918.1 L958.1,930.1 L947.3,933.1" fill="none" stroke="#979797" stroke-width="3.2" stroke-linecap="round" stroke-linejoin="round"/>
<path d="M943.4,884.1 L950.7,892.8" fill="none" stroke="#5a5a5a" stroke-width="5.4" stroke-linecap="round" stroke-linejoin="round"/>
<path d="M943.4,884.1 L950.7,892.8" fill="none" stroke="#979797" stroke-width="3.2" stroke-linecap="round" stroke-linejoin="round"/>
<ellipse cx="950.9" cy="907.8" rx="22.5" ry="22.5" fill="url(#sgO)"/>
<path d="M964.3,932.1 L953.3,927.9 L945.3,915.2 L943.0,899.2 L946.7,886.4 L954.4,882.1" fill="none" stroke="#5a5a5a" stroke-width="5.4" stroke-linecap="round" stroke-linejoin="round"/>
<path d="M964.3,932.1 L953.3,927.9 L945.3,915.2 L943.0,899.2 L946.7,886.4 L954.4,882.1" fill="none" stroke="#979797" stroke-width="3.2" stroke-linecap="round" stroke-linejoin="round"/>
<path d="M947.3,933.1 L936.8,926.0 L930.3,911.6 L929.9,895.9 L935.2,885.3 L943.4,884.1" fill="none" stroke="#5a5a5a" stroke-width="5.4" stroke-linecap="round" stroke-linejoin="round"/>
<path d="M947.3,933.1 L936.8,926.0 L930.3,911.6 L929.9,895.9 L935.2,885.3 L943.4,884.1" fill="none" stroke="#979797" stroke-width="3.2" stroke-linecap="round" stroke-linejoin="round"/>
<path d="M921.7,928.8 L929.6,930.4 L939.8,939.5 L947.8,952.7 L949.9,965.0 L944.9,971.8" fill="none" stroke="#5a5a5a" stroke-width="5.4" stroke-linecap="round" stroke-linejoin="round"/>
<path d="M921.7,928.8 L929.6,930.4 L939.8,939.5 L947.8,952.7 L949.9,965.0 L944.9,971.8" fill="none" stroke="#979797" stroke-width="3.2" stroke-linecap="round" stroke-linejoin="round"/>
<path d="M913.7,936.8 L922.7,940.8" fill="none" stroke="#5a5a5a" stroke-width="5.4" stroke-linecap="round" stroke-linejoin="round"/>
<path d="M913.7,936.8 L922.7,940.8" fill="none" stroke="#979797" stroke-width="3.2" stroke-linecap="round" stroke-linejoin="round"/>
<ellipse cx="933.3" cy="950.5" rx="21.4" ry="21.4" fill="url(#sgO)"/>
<path d="M957.0,962.1 L947.8,963.5 L935.6,957.1 L925.0,946.0 L919.8,934.9 L921.7,928.8" fill="none" stroke="#5a5a5a" stroke-width="5.4" stroke-linecap="round" stroke-linejoin="round"/>
<path d="M957.0,962.1 L947.8,963.5 L935.6,957.1 L925.0,946.0 L919.8,934.9 L921.7,928.8" fill="none" stroke="#979797" stroke-width="3.2" stroke-linecap="round" stroke-linejoin="round"/>
<path d="M944.9,971.8 L934.3,970.6 L922.1,962.4 L912.8,950.7 L909.7,940.7 L913.7,936.8" fill="none" stroke="#5a5a5a" stroke-width="5.4" stroke-linecap="round" stroke-linejoin="round"/>
<path d="M944.9,971.8 L934.3,970.6 L922.1,962.4 L912.8,950.7 L909.7,940.7 L913.7,936.8" fill="none" stroke="#979797" stroke-width="3.2" stroke-linecap="round" stroke-linejoin="round"/>
<path d="M915.0,934.0 L909.5,942.4 L894.7,949.3 L876.4,951.2 L861.9,946.6 L856.9,936.9" fill="none" stroke="#5a5a5a" stroke-width="5.4" stroke-linecap="round" stroke-linejoin="round"/>
<path d="M915.0,934.0 L909.5,942.4 L894.7,949.3 L876.4,951.2 L861.9,946.6 L856.9,936.9" fill="none" stroke="#979797" stroke-width="3.2" stroke-linecap="round" stroke-linejoin="round"/>
<path d="M910.5,921.5 L901.8,930.0" fill="none" stroke="#5a5a5a" stroke-width="5.4" stroke-linecap="round" stroke-linejoin="round"/>
<path d="M910.5,921.5 L901.8,930.0" fill="none" stroke="#979797" stroke-width="3.2" stroke-linecap="round" stroke-linejoin="round"/>
<ellipse cx="885.7" cy="935.4" rx="25.5" ry="25.5" fill="url(#sgO)"/>
<path d="M861.2,955.1 L864.2,943.7 L877.0,933.3 L894.4,927.4 L909.1,927.9 L915.0,934.0" fill="none" stroke="#5a5a5a" stroke-width="5.4" stroke-linecap="round" stroke-linejoin="round"/>
<path d="M861.2,955.1 L864.2,943.7 L877.0,933.3 L894.4,927.4 L909.1,927.9 L915.0,934.0" fill="none" stroke="#979797" stroke-width="3.2" stroke-linecap="round" stroke-linejoin="round"/>
<path d="M856.9,936.9 L863.2,925.3 L878.2,916.0 L895.5,912.0 L908.0,914.4 L910.5,921.5" fill="none" stroke="#5a5a5a" stroke-width="5.4" stroke-linecap="round" stroke-linejoin="round"/>
<path d="M856.9,936.9 L863.2,925.3 L878.2,916.0 L895.5,912.0 L908.0,914.4 L910.5,921.5" fill="none" stroke="#979797" stroke-width="3.2" stroke-linecap="round" stroke-linejoin="round"/>
<path d="M1103.8,834.5 L1107.4,840.4 L1109.0,853.1 L1107.5,867.7 L1103.0,878.1 L1096.7,880.2" fill="none" stroke="#5a5a5a" stroke-width="5.4" stroke-linecap="round" stroke-linejoin="round"/>
<path d="M1103.8,834.5 L1107.4,840.4 L1109.0,853.1 L1107.5,867.7 L1103.0,878.1 L1096.7,880.2" fill="none" stroke="#979797" stroke-width="3.2" stroke-linecap="round" stroke-linejoin="round"/>
<path d="M1092.7,835.8 L1095.9,844.1" fill="none" stroke="#5a5a5a" stroke-width="5.4" stroke-linecap="round" stroke-linejoin="round"/>
<path d="M1092.7,835.8 L1095.9,844.1" fill="none" stroke="#979797" stroke-width="3.2" stroke-linecap="round" stroke-linejoin="round"/>
<ellipse cx="1100.0" cy="857.5" rx="20.3" ry="20.3" fill="url(#sgG)"/>
<path d="M1111.0,880.1 L1104.7,875.7 L1100.1,863.7 L1098.6,849.2 L1100.2,837.9 L1103.8,834.5" fill="none" stroke="#5a5a5a" stroke-width="5.4" stroke-linecap="round" stroke-linejoin="round"/>
<path d="M1111.0,880.1 L1104.7,875.7 L1100.1,863.7 L1098.6,849.2 L1100.2,837.9 L1103.8,834.5" fill="none" stroke="#979797" stroke-width="3.2" stroke-linecap="round" stroke-linejoin="round"/>
<path d="M1096.7,880.2 L1090.7,873.1 L1087.0,859.8 L1086.5,845.6 L1088.8,836.3 L1092.7,835.8" fill="none" stroke="#5a5a5a" stroke-width="5.4" stroke-linecap="round" stroke-linejoin="round"/>
<path d="M1096.7,880.2 L1090.7,873.1 L1087.0,859.8 L1086.5,845.6 L1088.8,836.3 L1092.7,835.8" fill="none" stroke="#979797" stroke-width="3.2" stroke-linecap="round" stroke-linejoin="round"/>
<path d="M1064.3,842.7 L1076.7,849.7 L1082.5,864.5 L1078.8,881.3 L1066.5,893.1 L1049.9,895.3" fill="none" stroke="#5a5a5a" stroke-width="5.4" stroke-linecap="round" stroke-linejoin="round"/>
<path d="M1064.3,842.7 L1076.7,849.7 L1082.5,864.5 L1078.8,881.3 L1066.5,893.1 L1049.9,895.3" fill="none" stroke="#979797" stroke-width="3.2" stroke-linecap="round" stroke-linejoin="round"/>
<path d="M1054.2,843.7 L1065.1,853.6" fill="none" stroke="#5a5a5a" stroke-width="5.4" stroke-linecap="round" stroke-linejoin="round"/>
<path d="M1054.2,843.7 L1065.1,853.6" fill="none" stroke="#979797" stroke-width="3.2" stroke-linecap="round" stroke-linejoin="round"/>
<ellipse cx="1057.5" cy="869.2" rx="23.5" ry="23.5" fill="url(#sgG)"/>
<path d="M1069.3,895.8 L1053.3,890.4 L1043.3,876.4 L1042.6,859.5 L1050.9,846.5 L1064.3,842.7" fill="none" stroke="#5a5a5a" stroke-width="5.4" stroke-linecap="round" stroke-linejoin="round"/>
<path d="M1069.3,895.8 L1053.3,890.4 L1043.3,876.4 L1042.6,859.5 L1050.9,846.5 L1064.3,842.7" fill="none" stroke="#979797" stroke-width="3.2" stroke-linecap="round" stroke-linejoin="round"/>
<path d="M1049.9,895.3 L1035.2,886.9 L1027.7,871.3 L1030.0,854.9 L1040.4,844.2 L1054.2,843.7" fill="none" stroke="#5a5a5a" stroke-width="5.4" stroke-linecap="round" stroke-linejoin="round"/>
<path d="M1049.9,895.3 L1035.2,886.9 L1027.7,871.3 L1030.0,854.9 L1040.4,844.2 L1054.2,843.7" fill="none" stroke="#979797" stroke-width="3.2" stroke-linecap="round" stroke-linejoin="round"/>
<path d="M1097.8,903.9 L1103.3,906.6 L1109.8,915.3 L1114.4,926.8 L1114.7,936.5 L1110.3,940.9" fill="none" stroke="#5a5a5a" stroke-width="5.4" stroke-linecap="round" stroke-linejoin="round"/>
<path d="M1097.8,903.9 L1103.3,906.6 L1109.8,915.3 L1114.4,926.8 L1114.7,936.5 L1110.3,940.9" fill="none" stroke="#979797" stroke-width="3.2" stroke-linecap="round" stroke-linejoin="round"/>
<path d="M1090.2,909.2 L1096.3,913.9" fill="none" stroke="#5a5a5a" stroke-width="5.4" stroke-linecap="round" stroke-linejoin="round"/>
<path d="M1090.2,909.2 L1096.3,913.9" fill="none" stroke="#979797" stroke-width="3.2" stroke-linecap="round" stroke-linejoin="round"/>
<ellipse cx="1104.0" cy="922.6" rx="17.1" ry="17.1" fill="url(#sgG)"/>
<path d="M1121.1,935.1 L1114.2,934.5 L1105.7,927.7 L1098.9,917.4 L1096.0,908.2 L1097.8,903.9" fill="none" stroke="#5a5a5a" stroke-width="5.4" stroke-linecap="round" stroke-linejoin="round"/>
<path d="M1121.1,935.1 L1114.2,934.5 L1105.7,927.7 L1098.9,917.4 L1096.0,908.2 L1097.8,903.9" fill="none" stroke="#979797" stroke-width="3.2" stroke-linecap="round" stroke-linejoin="round"/>
<path d="M1110.3,940.9 L1102.6,938.2 L1094.4,929.9 L1088.5,919.5 L1087.0,911.4 L1090.2,909.2" fill="none" stroke="#5a5a5a" stroke-width="5.4" stroke-linecap="round" stroke-linejoin="round"/>
<path d="M1110.3,940.9 L1102.6,938.2 L1094.4,929.9 L1088.5,919.5 L1087.0,911.4 L1090.2,909.2" fill="none" stroke="#979797" stroke-width="3.2" stroke-linecap="round" stroke-linejoin="round"/>
<path d="M1125.3,884.7 L1121.8,892.1 L1110.2,902.0 L1094.7,909.8 L1081.5,912.0 L1075.4,907.1" fill="none" stroke="#5a5a5a" stroke-width="5.4" stroke-linecap="round" stroke-linejoin="round"/>
<path d="M1125.3,884.7 L1121.8,892.1 L1110.2,902.0 L1094.7,909.8 L1081.5,912.0 L1075.4,907.1" fill="none" stroke="#979797" stroke-width="3.2" stroke-linecap="round" stroke-linejoin="round"/>
<path d="M1116.9,874.5 L1110.6,883.1" fill="none" stroke="#5a5a5a" stroke-width="5.4" stroke-linecap="round" stroke-linejoin="round"/>
<path d="M1116.9,874.5 L1110.6,883.1" fill="none" stroke="#979797" stroke-width="3.2" stroke-linecap="round" stroke-linejoin="round"/>
<ellipse cx="1100.0" cy="895.8" rx="24.1" ry="24.1" fill="url(#sgG)"/>
<path d="M1084.6,921.3 L1085.0,912.2 L1093.9,899.9 L1107.4,889.0 L1119.6,883.4 L1125.3,884.7" fill="none" stroke="#5a5a5a" stroke-width="5.4" stroke-linecap="round" stroke-linejoin="round"/>
<path d="M1084.6,921.3 L1085.0,912.2 L1093.9,899.9 L1107.4,889.0 L1119.6,883.4 L1125.3,884.7" fill="none" stroke="#979797" stroke-width="3.2" stroke-linecap="round" stroke-linejoin="round"/>
<path d="M1075.4,907.1 L1078.5,896.6 L1089.4,884.3 L1103.1,874.7 L1113.8,871.1 L1116.9,874.5" fill="none" stroke="#5a5a5a" stroke-width="5.4" stroke-linecap="round" stroke-linejoin="round"/>
<path d="M1075.4,907.1 L1078.5,896.6 L1089.4,884.3 L1103.1,874.7 L1113.8,871.1 L1116.9,874.5" fill="none" stroke="#979797" stroke-width="3.2" stroke-linecap="round" stroke-linejoin="round"/>
<path d="M1011.3,909.1 L1018.3,896.7 L1033.1,890.9 L1049.9,894.6 L1061.7,906.9 L1063.9,923.5" fill="none" stroke="#5a5a5a" stroke-width="5.4" stroke-linecap="round" stroke-linejoin="round"/>
<path d="M1011.3,909.1 L1018.3,896.7 L1033.1,890.9 L1049.9,894.6 L1061.7,906.9 L1063.9,923.5" fill="none" stroke="#979797" stroke-width="3.2" stroke-linecap="round" stroke-linejoin="round"/>
<path d="M1012.3,919.2 L1022.2,908.3" fill="none" stroke="#5a5a5a" stroke-width="5.4" stroke-linecap="round" stroke-linejoin="round"/>
<path d="M1012.3,919.2 L1022.2,908.3" fill="none" stroke="#979797" stroke-width="3.2" stroke-linecap="round" stroke-linejoin="round"/>
<ellipse cx="1037.8" cy="915.9" rx="23.5" ry="23.5" fill="url(#sgG)"/>
<path d="M1064.4,904.1 L1059.0,920.1 L1045.0,930.1 L1028.1,930.8 L1015.1,922.5 L1011.3,909.1" fill="none" stroke="#5a5a5a" stroke-width="5.4" stroke-linecap="round" stroke-linejoin="round"/>
<path d="M1064.4,904.1 L1059.0,920.1 L1045.0,930.1 L1028.1,930.8 L1015.1,922.5 L1011.3,909.1" fill="none" stroke="#979797" stroke-width="3.2" stroke-linecap="round" stroke-linejoin="round"/>
<path d="M1063.9,923.5 L1055.5,938.2 L1039.9,945.7 L1023.5,943.4 L1012.8,933.0 L1012.3,919.2" fill="none" stroke="#5a5a5a" stroke-width="5.4" stroke-linecap="round" stroke-linejoin="round"/>
<path d="M1063.9,923.5 L1055.5,938.2 L1039.9,945.7 L1023.5,943.4 L1012.8,933.0 L1012.3,919.2" fill="none" stroke="#979797" stroke-width="3.2" stroke-linecap="round" stroke-linejoin="round"/>
<path d="M1040,918 L1080,928 L1100,935" fill="none" stroke="#5a5a5a" stroke-width="5.4" stroke-linecap="round" stroke-linejoin="round"/>
<path d="M1040,918 L1080,928 L1100,935" fill="none" stroke="#979797" stroke-width="3.2" stroke-linecap="round" stroke-linejoin="round"/>
<path d="M1119.6,957.4 L1113.1,964.2 L1097.7,968.7 L1079.6,968.5 L1066.0,962.9 L1062.4,953.7" fill="none" stroke="#5a5a5a" stroke-width="5.4" stroke-linecap="round" stroke-linejoin="round"/>
<path d="M1119.6,957.4 L1113.1,964.2 L1097.7,968.7 L1079.6,968.5 L1066.0,962.9 L1062.4,953.7" fill="none" stroke="#979797" stroke-width="3.2" stroke-linecap="round" stroke-linejoin="round"/>
<path d="M1116.7,944.4 L1107.0,950.9" fill="none" stroke="#5a5a5a" stroke-width="5.4" stroke-linecap="round" stroke-linejoin="round"/>
<path d="M1116.7,944.4 L1107.0,950.9" fill="none" stroke="#979797" stroke-width="3.2" stroke-linecap="round" stroke-linejoin="round"/>
<ellipse cx="1090.8" cy="955.4" rx="25.1" ry="25.1" fill="url(#sgG)"/>
<path d="M1064.4,971.8 L1068.8,961.8 L1082.8,953.6 L1100.5,949.9 L1114.7,951.6 L1119.6,957.4" fill="none" stroke="#5a5a5a" stroke-width="5.4" stroke-linecap="round" stroke-linejoin="round"/>
<path d="M1064.4,971.8 L1068.8,961.8 L1082.8,953.6 L1100.5,949.9 L1114.7,951.6 L1119.6,957.4" fill="none" stroke="#979797" stroke-width="3.2" stroke-linecap="round" stroke-linejoin="round"/>
<path d="M1062.4,953.7 L1070.1,943.9 L1085.9,936.9 L1103.4,934.8 L1115.3,938.0 L1116.7,944.4" fill="none" stroke="#5a5a5a" stroke-width="5.4" stroke-linecap="round" stroke-linejoin="round"/>
<path d="M1062.4,953.7 L1070.1,943.9 L1085.9,936.9 L1103.4,934.8 L1115.3,938.0 L1116.7,944.4" fill="none" stroke="#979797" stroke-width="3.2" stroke-linecap="round" stroke-linejoin="round"/>
<path d="M1173.7,853.9 L1173.4,864.3 L1164.2,876.5 L1149.5,885.0 L1134.8,885.9 L1125.7,878.4" fill="none" stroke="#5a5a5a" stroke-width="5.4" stroke-linecap="round" stroke-linejoin="round"/>
<path d="M1173.7,853.9 L1173.4,864.3 L1164.2,876.5 L1149.5,885.0 L1134.8,885.9 L1125.7,878.4" fill="none" stroke="#979797" stroke-width="3.2" stroke-linecap="round" stroke-linejoin="round"/>
<path d="M1165.5,845.6 L1162.3,857.1" fill="none" stroke="#5a5a5a" stroke-width="5.4" stroke-linecap="round" stroke-linejoin="round"/>
<path d="M1165.5,845.6 L1162.3,857.1" fill="none" stroke="#979797" stroke-width="3.2" stroke-linecap="round" stroke-linejoin="round"/>
<ellipse cx="1149.6" cy="866.3" rx="23.5" ry="23.5" fill="url(#sgG)"/>
<path d="M1136.8,892.4 L1133.8,880.4 L1139.9,865.9 L1152.2,854.3 L1165.4,849.8 L1173.7,853.9" fill="none" stroke="#5a5a5a" stroke-width="5.4" stroke-linecap="round" stroke-linejoin="round"/>
<path d="M1136.8,892.4 L1133.8,880.4 L1139.9,865.9 L1152.2,854.3 L1165.4,849.8 L1173.7,853.9" fill="none" stroke="#979797" stroke-width="3.2" stroke-linecap="round" stroke-linejoin="round"/>
<path d="M1125.7,878.4 L1125.6,865.1 L1134.0,850.9 L1147.2,841.1 L1159.5,839.3 L1165.5,845.6" fill="none" stroke="#5a5a5a" stroke-width="5.4" stroke-linecap="round" stroke-linejoin="round"/>
<path d="M1125.7,878.4 L1125.6,865.1 L1134.0,850.9 L1147.2,841.1 L1159.5,839.3 L1165.5,845.6" fill="none" stroke="#979797" stroke-width="3.2" stroke-linecap="round" stroke-linejoin="round"/>
<path d="M1125,860 L1150,885 L1170,900" fill="none" stroke="#5a5a5a" stroke-width="5.4" stroke-linecap="round" stroke-linejoin="round"/>
<path d="M1125,860 L1150,885 L1170,900" fill="none" stroke="#979797" stroke-width="3.2" stroke-linecap="round" stroke-linejoin="round"/>
<path d="M1217.5,869.9 L1212.1,875.2 L1198.7,880.2 L1182.7,882.1 L1170.4,879.8 L1166.6,873.6" fill="none" stroke="#5a5a5a" stroke-width="5.4" stroke-linecap="round" stroke-linejoin="round"/>
<path d="M1217.5,869.9 L1212.1,875.2 L1198.7,880.2 L1182.7,882.1 L1170.4,879.8 L1166.6,873.6" fill="none" stroke="#979797" stroke-width="3.2" stroke-linecap="round" stroke-linejoin="round"/>
<path d="M1213.4,858.2 L1205.2,863.7" fill="none" stroke="#5a5a5a" stroke-width="5.4" stroke-linecap="round" stroke-linejoin="round"/>
<path d="M1213.4,858.2 L1205.2,863.7" fill="none" stroke="#979797" stroke-width="3.2" stroke-linecap="round" stroke-linejoin="round"/>
<ellipse cx="1191.8" cy="871.5" rx="22.5" ry="22.5" fill="url(#sgG)"/>
<path d="M1170.2,888.9 L1173.4,881.1 L1185.1,873.2 L1200.4,867.9 L1213.0,866.8 L1217.5,869.9" fill="none" stroke="#5a5a5a" stroke-width="5.4" stroke-linecap="round" stroke-linejoin="round"/>
<path d="M1170.2,888.9 L1173.4,881.1 L1185.1,873.2 L1200.4,867.9 L1213.0,866.8 L1217.5,869.9" fill="none" stroke="#979797" stroke-width="3.2" stroke-linecap="round" stroke-linejoin="round"/>
<path d="M1166.6,873.6 L1172.7,865.4 L1186.1,858.0 L1201.3,853.9 L1211.8,854.2 L1213.4,858.2" fill="none" stroke="#5a5a5a" stroke-width="5.4" stroke-linecap="round" stroke-linejoin="round"/>
<path d="M1166.6,873.6 L1172.7,865.4 L1186.1,858.0 L1201.3,853.9 L1211.8,854.2 L1213.4,858.2" fill="none" stroke="#979797" stroke-width="3.2" stroke-linecap="round" stroke-linejoin="round"/>
<path d="M1197.5,919.1 L1191.3,927.2 L1175.8,932.8 L1157.3,933.0 L1143.1,927.2 L1138.9,917.0" fill="none" stroke="#5a5a5a" stroke-width="5.4" stroke-linecap="round" stroke-linejoin="round"/>
<path d="M1197.5,919.1 L1191.3,927.2 L1175.8,932.8 L1157.3,933.0 L1143.1,927.2 L1138.9,917.0" fill="none" stroke="#979797" stroke-width="3.2" stroke-linecap="round" stroke-linejoin="round"/>
<path d="M1194.1,906.3 L1184.6,914.0" fill="none" stroke="#5a5a5a" stroke-width="5.4" stroke-linecap="round" stroke-linejoin="round"/>
<path d="M1194.1,906.3 L1184.6,914.0" fill="none" stroke="#979797" stroke-width="3.2" stroke-linecap="round" stroke-linejoin="round"/>
<ellipse cx="1168.0" cy="918.0" rx="25.7" ry="25.7" fill="url(#sgG)"/>
<path d="M1141.7,935.7 L1145.6,924.5 L1159.5,915.1 L1177.5,910.8 L1192.2,912.6 L1197.5,919.1" fill="none" stroke="#5a5a5a" stroke-width="5.4" stroke-linecap="round" stroke-linejoin="round"/>
<path d="M1141.7,935.7 L1145.6,924.5 L1159.5,915.1 L1177.5,910.8 L1192.2,912.6 L1197.5,919.1" fill="none" stroke="#979797" stroke-width="3.2" stroke-linecap="round" stroke-linejoin="round"/>
<path d="M1138.9,917.0 L1146.3,905.9 L1162.1,897.8 L1179.9,895.3 L1192.3,898.8 L1194.1,906.3" fill="none" stroke="#5a5a5a" stroke-width="5.4" stroke-linecap="round" stroke-linejoin="round"/>
<path d="M1138.9,917.0 L1146.3,905.9 L1162.1,897.8 L1179.9,895.3 L1192.3,898.8 L1194.1,906.3" fill="none" stroke="#979797" stroke-width="3.2" stroke-linecap="round" stroke-linejoin="round"/>
<path d="M1220.5,834.2 L1228.3,824.6 L1241.8,821.9 L1255.5,827.6 L1263.7,839.9 L1263.0,854.3" fill="none" stroke="#5a5a5a" stroke-width="5.4" stroke-linecap="round" stroke-linejoin="round"/>
<path d="M1220.5,834.2 L1228.3,824.6 L1241.8,821.9 L1255.5,827.6 L1263.7,839.9 L1263.0,854.3" fill="none" stroke="#979797" stroke-width="3.2" stroke-linecap="round" stroke-linejoin="round"/>
<path d="M1219.8,842.9 L1229.8,835.1" fill="none" stroke="#5a5a5a" stroke-width="5.4" stroke-linecap="round" stroke-linejoin="round"/>
<path d="M1219.8,842.9 L1229.8,835.1" fill="none" stroke="#979797" stroke-width="3.2" stroke-linecap="round" stroke-linejoin="round"/>
<ellipse cx="1242.0" cy="843.9" rx="20.3" ry="20.3" fill="url(#sgG)"/>
<path d="M1266.4,837.9 L1259.4,850.6 L1246.0,857.1 L1231.5,855.2 L1221.7,846.1 L1220.5,834.2" fill="none" stroke="#5a5a5a" stroke-width="5.4" stroke-linecap="round" stroke-linejoin="round"/>
<path d="M1266.4,837.9 L1259.4,850.6 L1246.0,857.1 L1231.5,855.2 L1221.7,846.1 L1220.5,834.2" fill="none" stroke="#979797" stroke-width="3.2" stroke-linecap="round" stroke-linejoin="round"/>
<path d="M1263.0,854.3 L1253.7,865.5 L1239.3,869.5 L1225.7,865.2 L1218.2,854.7 L1219.8,842.9" fill="none" stroke="#5a5a5a" stroke-width="5.4" stroke-linecap="round" stroke-linejoin="round"/>
<path d="M1263.0,854.3 L1253.7,865.5 L1239.3,869.5 L1225.7,865.2 L1218.2,854.7 L1219.8,842.9" fill="none" stroke="#979797" stroke-width="3.2" stroke-linecap="round" stroke-linejoin="round"/>
<path d="M1268.8,943.4 L1262.6,948.4 L1248.6,951.4 L1232.5,950.4 L1220.7,945.4 L1218.0,937.8" fill="none" stroke="#5a5a5a" stroke-width="5.4" stroke-linecap="round" stroke-linejoin="round"/>
<path d="M1268.8,943.4 L1262.6,948.4 L1248.6,951.4 L1232.5,950.4 L1220.7,945.4 L1218.0,937.8" fill="none" stroke="#979797" stroke-width="3.2" stroke-linecap="round" stroke-linejoin="round"/>
<path d="M1266.8,931.4 L1257.8,936.1" fill="none" stroke="#5a5a5a" stroke-width="5.4" stroke-linecap="round" stroke-linejoin="round"/>
<path d="M1266.8,931.4 L1257.8,936.1" fill="none" stroke="#979797" stroke-width="3.2" stroke-linecap="round" stroke-linejoin="round"/>
<ellipse cx="1243.2" cy="940.4" rx="22.5" ry="22.5" fill="url(#sgG)"/>
<path d="M1218.9,953.8 L1223.4,945.9 L1236.2,939.7 L1252.2,937.2 L1264.8,938.8 L1268.8,943.4" fill="none" stroke="#5a5a5a" stroke-width="5.4" stroke-linecap="round" stroke-linejoin="round"/>
<path d="M1218.9,953.8 L1223.4,945.9 L1236.2,939.7 L1252.2,937.2 L1264.8,938.8 L1268.8,943.4" fill="none" stroke="#979797" stroke-width="3.2" stroke-linecap="round" stroke-linejoin="round"/>
<path d="M1218.0,937.8 L1225.4,930.1 L1239.8,924.9 L1255.5,923.7 L1265.9,926.4 L1266.8,931.4" fill="none" stroke="#5a5a5a" stroke-width="5.4" stroke-linecap="round" stroke-linejoin="round"/>
<path d="M1218.0,937.8 L1225.4,930.1 L1239.8,924.9 L1255.5,923.7 L1265.9,926.4 L1266.8,931.4" fill="none" stroke="#979797" stroke-width="3.2" stroke-linecap="round" stroke-linejoin="round"/>
<path d="M1272.7,893.8 L1266.0,901.3 L1249.8,906.7 L1230.6,907.1 L1216.0,901.7 L1211.8,892.0" fill="none" stroke="#5a5a5a" stroke-width="5.4" stroke-linecap="round" stroke-linejoin="round"/>
<path d="M1272.7,893.8 L1266.0,901.3 L1249.8,906.7 L1230.6,907.1 L1216.0,901.7 L1211.8,892.0" fill="none" stroke="#979797" stroke-width="3.2" stroke-linecap="round" stroke-linejoin="round"/>
<path d="M1269.1,880.1 L1259.1,887.4" fill="none" stroke="#5a5a5a" stroke-width="5.4" stroke-linecap="round" stroke-linejoin="round"/>
<path d="M1269.1,880.1 L1259.1,887.4" fill="none" stroke="#979797" stroke-width="3.2" stroke-linecap="round" stroke-linejoin="round"/>
<ellipse cx="1242.0" cy="892.8" rx="27.8" ry="24.6" fill="url(#sgG)"/>
<path d="M1214.6,911.2 L1218.9,900.4 L1233.4,891.2 L1252.1,886.6 L1267.3,887.9 L1272.7,893.8" fill="none" stroke="#5a5a5a" stroke-width="5.4" stroke-linecap="round" stroke-linejoin="round"/>
<path d="M1214.6,911.2 L1218.9,900.4 L1233.4,891.2 L1252.1,886.6 L1267.3,887.9 L1272.7,893.8" fill="none" stroke="#979797" stroke-width="3.2" stroke-linecap="round" stroke-linejoin="round"/>
<path d="M1211.8,892.0 L1219.6,881.3 L1236.1,873.3 L1254.6,870.5 L1267.4,873.4 L1269.1,880.1" fill="none" stroke="#5a5a5a" stroke-width="5.4" stroke-linecap="round" stroke-linejoin="round"/>
<path d="M1211.8,892.0 L1219.6,881.3 L1236.1,873.3 L1254.6,870.5 L1267.4,873.4 L1269.1,880.1" fill="none" stroke="#979797" stroke-width="3.2" stroke-linecap="round" stroke-linejoin="round"/>
<path d="M156.8,909.0 L142.0,929.0 L159.8,934.2 Z" fill="#ffe600" stroke="#2a2a00" stroke-width="1.3" stroke-linejoin="round"/>
<path d="M479.2,936.7 L471.6,959.2 L489.2,959.2 Z" fill="#ffe600" stroke="#2a2a00" stroke-width="1.3" stroke-linejoin="round"/>
<path d="M836.5,935.5 L834.0,963.0 L853.0,957.5 Z" fill="#ffe600" stroke="#2a2a00" stroke-width="1.3" stroke-linejoin="round"/>
</svg></body></html>
